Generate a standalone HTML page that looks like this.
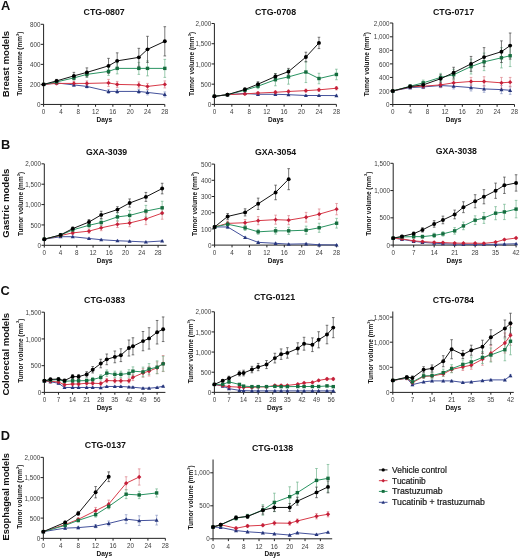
<!DOCTYPE html>
<html><head><meta charset="utf-8"><style>
html,body{margin:0;padding:0;background:#fff;}
svg{display:block;will-change:transform;filter:blur(0.3px);}
text{font-family:"Liberation Sans", sans-serif;}
</style></head><body>
<svg width="520" height="559" viewBox="0 0 520 559">
<rect width="520" height="559" fill="#fff"/>
<g stroke="#222" stroke-width="1" fill="none">
<path d="M43.6 24.3V104.45H164.8"/>
<path d="M40.8 104.45H43.6"/>
<path d="M40.8 84.41H43.6"/>
<path d="M40.8 64.37H43.6"/>
<path d="M40.8 44.33H43.6"/>
<path d="M40.8 24.29H43.6"/>
<path d="M43.6 104.45V106.75"/>
<path d="M60.92 104.45V106.75"/>
<path d="M78.23 104.45V106.75"/>
<path d="M95.55 104.45V106.75"/>
<path d="M112.86 104.45V106.75"/>
<path d="M130.18 104.45V106.75"/>
<path d="M147.5 104.45V106.75"/>
<path d="M164.81 104.45V106.75"/>
</g>
<text x="40.4" y="107.1" font-size="6.3" font-weight="normal" text-anchor="end" fill="#404040">0</text>
<text x="40.4" y="87.06" font-size="6.3" font-weight="normal" text-anchor="end" fill="#404040">200</text>
<text x="40.4" y="67.02" font-size="6.3" font-weight="normal" text-anchor="end" fill="#404040">400</text>
<text x="40.4" y="46.98" font-size="6.3" font-weight="normal" text-anchor="end" fill="#404040">600</text>
<text x="40.4" y="26.94" font-size="6.3" font-weight="normal" text-anchor="end" fill="#404040">800</text>
<text x="43.6" y="114.35" font-size="6.3" font-weight="normal" text-anchor="middle" fill="#404040">0</text>
<text x="60.92" y="114.35" font-size="6.3" font-weight="normal" text-anchor="middle" fill="#404040">4</text>
<text x="78.23" y="114.35" font-size="6.3" font-weight="normal" text-anchor="middle" fill="#404040">8</text>
<text x="95.55" y="114.35" font-size="6.3" font-weight="normal" text-anchor="middle" fill="#404040">12</text>
<text x="112.86" y="114.35" font-size="6.3" font-weight="normal" text-anchor="middle" fill="#404040">16</text>
<text x="130.18" y="114.35" font-size="6.3" font-weight="normal" text-anchor="middle" fill="#404040">20</text>
<text x="147.5" y="114.35" font-size="6.3" font-weight="normal" text-anchor="middle" fill="#404040">24</text>
<text x="164.81" y="114.35" font-size="6.3" font-weight="normal" text-anchor="middle" fill="#404040">28</text>
<text x="104.25" y="122.05" font-size="6.4" font-weight="bold" text-anchor="middle" fill="#111" textLength="15.6" lengthAdjust="spacingAndGlyphs">Days</text>
<text x="104.2" y="15" font-size="9.1" font-weight="bold" text-anchor="middle" fill="#111" textLength="41.2" lengthAdjust="spacingAndGlyphs">CTG-0807</text>
<text x="21.9" y="63.6" font-size="6.4" font-weight="bold" fill="#111" text-anchor="middle" transform="rotate(-90 21.9 63.6)" textLength="64.2" lengthAdjust="spacingAndGlyphs">Tumor volume (mm<tspan font-size="4" dy="-3.2">3</tspan><tspan dy="3.2">)</tspan></text>
<g stroke="#8a96c4" stroke-width="0.7" fill="none">
<path d="M56.59 81.91V83.91M55.29 81.91H57.89M55.29 83.91H57.89"/>
<path d="M73.9 83.41V86.41M72.6 83.41H75.2M72.6 86.41H75.2"/>
<path d="M86.89 84.91V87.92M85.59 84.91H88.19M85.59 87.92H88.19"/>
<path d="M108.53 89.42V93.43M107.23 89.42H109.83M107.23 93.43H109.83"/>
<path d="M117.19 89.42V93.43M115.89 89.42H118.49M115.89 93.43H118.49"/>
<path d="M138.84 89.42V93.43M137.54 89.42H140.14M137.54 93.43H140.14"/>
<path d="M147.5 89.92V94.93M146.2 89.92H148.8M146.2 94.93H148.8"/>
<path d="M164.81 91.92V96.94M163.51 91.92H166.11M163.51 96.94H166.11"/>
</g>
<g stroke="#dc8088" stroke-width="0.7" fill="none">
<path d="M56.59 82.21V84.61M55.29 82.21H57.89M55.29 84.61H57.89"/>
<path d="M73.9 81.4V85.41M72.6 81.4H75.2M72.6 85.41H75.2"/>
<path d="M86.89 80.9V85.91M85.59 80.9H88.19M85.59 85.91H88.19"/>
<path d="M108.53 79.4V86.41M107.23 79.4H109.83M107.23 86.41H109.83"/>
<path d="M117.19 81.4V87.42M115.89 81.4H118.49M115.89 87.42H118.49"/>
<path d="M138.84 81.91V87.92M137.54 81.91H140.14M137.54 87.92H140.14"/>
<path d="M147.5 83.41V89.42M146.2 83.41H148.8M146.2 89.42H148.8"/>
<path d="M164.81 80.9V87.92M163.51 80.9H166.11M163.51 87.92H166.11"/>
</g>
<g stroke="#70b48c" stroke-width="0.7" fill="none">
<path d="M56.59 80.7V83.11M55.29 80.7H57.89M55.29 83.11H57.89"/>
<path d="M73.9 75.69V80.1M72.6 75.69H75.2M72.6 80.1H75.2"/>
<path d="M86.89 71.38V77.4M85.59 71.38H88.19M85.59 77.4H88.19"/>
<path d="M108.53 67.38V75.39M107.23 67.38H109.83M107.23 75.39H109.83"/>
<path d="M117.19 62.87V73.89M115.89 62.87H118.49M115.89 73.89H118.49"/>
<path d="M138.84 62.37V74.39M137.54 62.37H140.14M137.54 74.39H140.14"/>
<path d="M147.5 60.86V75.89M146.2 60.86H148.8M146.2 75.89H148.8"/>
<path d="M164.81 59.36V77.4M163.51 59.36H166.11M163.51 77.4H166.11"/>
</g>
<g stroke="#404040" stroke-width="0.7" fill="none">
<path d="M56.59 79.4V82.41M55.29 79.4H57.89M55.29 82.41H57.89"/>
<path d="M73.9 72.39V79.4M72.6 72.39H75.2M72.6 79.4H75.2"/>
<path d="M86.89 67.88V76.9M85.59 67.88H88.19M85.59 76.9H88.19"/>
<path d="M108.53 58.36V73.39M107.23 58.36H109.83M107.23 73.39H109.83"/>
<path d="M117.19 52.85V68.88M115.89 52.85H118.49M115.89 68.88H118.49"/>
<path d="M138.84 48.34V66.37M137.54 48.34H140.14M137.54 66.37H140.14"/>
<path d="M147.5 36.31V62.37M146.2 36.31H148.8M146.2 62.37H148.8"/>
<path d="M164.81 26.69V55.95M163.51 26.69H166.11M163.51 55.95H166.11"/>
</g>
<path d="M43.6 84.41 L56.59 82.91 L73.9 84.91 L86.89 86.41 L108.53 91.42 L117.19 91.42 L138.84 91.42 L147.5 92.43 L164.81 94.43" stroke="#44529c" stroke-width="1.0" fill="none" stroke-linejoin="round"/>
<path d="M43.6 82.41L45.6 86.01L41.6 86.01Z" fill="#26357a"/>
<path d="M56.59 80.91L58.59 84.51L54.59 84.51Z" fill="#26357a"/>
<path d="M73.9 82.91L75.9 86.51L71.9 86.51Z" fill="#26357a"/>
<path d="M86.89 84.41L88.89 88.01L84.89 88.01Z" fill="#26357a"/>
<path d="M108.53 89.42L110.53 93.02L106.53 93.02Z" fill="#26357a"/>
<path d="M117.19 89.42L119.19 93.02L115.19 93.02Z" fill="#26357a"/>
<path d="M138.84 89.42L140.84 93.02L136.84 93.02Z" fill="#26357a"/>
<path d="M147.5 90.43L149.5 94.03L145.5 94.03Z" fill="#26357a"/>
<path d="M164.81 92.43L166.81 96.03L162.81 96.03Z" fill="#26357a"/>
<path d="M43.6 84.41 L56.59 83.41 L73.9 83.41 L86.89 83.41 L108.53 82.91 L117.19 84.41 L138.84 84.91 L147.5 86.41 L164.81 84.41" stroke="#d83a48" stroke-width="1.0" fill="none" stroke-linejoin="round"/>
<path d="M43.6 82.26L45.75 84.41L43.6 86.56L41.45 84.41Z" fill="#c4203a"/>
<path d="M56.59 81.26L58.74 83.41L56.59 85.56L54.44 83.41Z" fill="#c4203a"/>
<path d="M73.9 81.26L76.05 83.41L73.9 85.56L71.75 83.41Z" fill="#c4203a"/>
<path d="M86.89 81.26L89.04 83.41L86.89 85.56L84.74 83.41Z" fill="#c4203a"/>
<path d="M108.53 80.76L110.69 82.91L108.53 85.06L106.38 82.91Z" fill="#c4203a"/>
<path d="M117.19 82.26L119.34 84.41L117.19 86.56L115.04 84.41Z" fill="#c4203a"/>
<path d="M138.84 82.76L140.99 84.91L138.84 87.06L136.69 84.91Z" fill="#c4203a"/>
<path d="M147.5 84.26L149.65 86.41L147.5 88.56L145.35 86.41Z" fill="#c4203a"/>
<path d="M164.81 82.26L166.96 84.41L164.81 86.56L162.66 84.41Z" fill="#c4203a"/>
<path d="M43.6 84.41 L56.59 81.91 L73.9 77.9 L86.89 74.39 L108.53 71.38 L117.19 68.38 L138.84 68.38 L147.5 68.38 L164.81 68.38" stroke="#2a9462" stroke-width="1.0" fill="none" stroke-linejoin="round"/>
<rect x="41.9" y="82.71" width="3.4" height="3.4" fill="#156c3e"/>
<rect x="54.89" y="80.2" width="3.4" height="3.4" fill="#156c3e"/>
<rect x="72.2" y="76.2" width="3.4" height="3.4" fill="#156c3e"/>
<rect x="85.19" y="72.69" width="3.4" height="3.4" fill="#156c3e"/>
<rect x="106.83" y="69.68" width="3.4" height="3.4" fill="#156c3e"/>
<rect x="115.49" y="66.68" width="3.4" height="3.4" fill="#156c3e"/>
<rect x="137.14" y="66.68" width="3.4" height="3.4" fill="#156c3e"/>
<rect x="145.8" y="66.68" width="3.4" height="3.4" fill="#156c3e"/>
<rect x="163.11" y="66.68" width="3.4" height="3.4" fill="#156c3e"/>
<path d="M43.6 84.41 L56.59 80.9 L73.9 75.89 L86.89 72.39 L108.53 65.87 L117.19 60.86 L138.84 57.36 L147.5 49.34 L164.81 41.32" stroke="#141414" stroke-width="1.0" fill="none" stroke-linejoin="round"/>
<circle cx="43.6" cy="84.41" r="1.95" fill="#000000"/>
<circle cx="56.59" cy="80.9" r="1.95" fill="#000000"/>
<circle cx="73.9" cy="75.89" r="1.95" fill="#000000"/>
<circle cx="86.89" cy="72.39" r="1.95" fill="#000000"/>
<circle cx="108.53" cy="65.87" r="1.95" fill="#000000"/>
<circle cx="117.19" cy="60.86" r="1.95" fill="#000000"/>
<circle cx="138.84" cy="57.36" r="1.95" fill="#000000"/>
<circle cx="147.5" cy="49.34" r="1.95" fill="#000000"/>
<circle cx="164.81" cy="41.32" r="1.95" fill="#000000"/>
<g stroke="#222" stroke-width="1" fill="none">
<path d="M214.4 23.5V104.4H336.4"/>
<path d="M211.6 104.4H214.4"/>
<path d="M211.6 84.18H214.4"/>
<path d="M211.6 63.95H214.4"/>
<path d="M211.6 43.73H214.4"/>
<path d="M211.6 23.5H214.4"/>
<path d="M214.4 104.4V106.7"/>
<path d="M231.83 104.4V106.7"/>
<path d="M249.26 104.4V106.7"/>
<path d="M266.68 104.4V106.7"/>
<path d="M284.11 104.4V106.7"/>
<path d="M301.54 104.4V106.7"/>
<path d="M318.97 104.4V106.7"/>
<path d="M336.4 104.4V106.7"/>
</g>
<text x="211.2" y="107.05" font-size="6.3" font-weight="normal" text-anchor="end" fill="#404040">0</text>
<text x="211.2" y="86.83" font-size="6.3" font-weight="normal" text-anchor="end" fill="#404040">500</text>
<text x="211.2" y="66.6" font-size="6.3" font-weight="normal" text-anchor="end" fill="#404040">1,000</text>
<text x="211.2" y="46.38" font-size="6.3" font-weight="normal" text-anchor="end" fill="#404040">1,500</text>
<text x="211.2" y="26.15" font-size="6.3" font-weight="normal" text-anchor="end" fill="#404040">2,000</text>
<text x="214.4" y="114.3" font-size="6.3" font-weight="normal" text-anchor="middle" fill="#404040">0</text>
<text x="231.83" y="114.3" font-size="6.3" font-weight="normal" text-anchor="middle" fill="#404040">4</text>
<text x="249.26" y="114.3" font-size="6.3" font-weight="normal" text-anchor="middle" fill="#404040">8</text>
<text x="266.68" y="114.3" font-size="6.3" font-weight="normal" text-anchor="middle" fill="#404040">12</text>
<text x="284.11" y="114.3" font-size="6.3" font-weight="normal" text-anchor="middle" fill="#404040">16</text>
<text x="301.54" y="114.3" font-size="6.3" font-weight="normal" text-anchor="middle" fill="#404040">20</text>
<text x="318.97" y="114.3" font-size="6.3" font-weight="normal" text-anchor="middle" fill="#404040">24</text>
<text x="336.4" y="114.3" font-size="6.3" font-weight="normal" text-anchor="middle" fill="#404040">28</text>
<text x="275.85" y="122" font-size="6.4" font-weight="bold" text-anchor="middle" fill="#111" textLength="15.6" lengthAdjust="spacingAndGlyphs">Days</text>
<text x="275.55" y="14.9" font-size="9.1" font-weight="bold" text-anchor="middle" fill="#111" textLength="41.2" lengthAdjust="spacingAndGlyphs">CTG-0708</text>
<text x="194.2" y="64" font-size="6.4" font-weight="bold" fill="#111" text-anchor="middle" transform="rotate(-90 194.2 64)" textLength="64.2" lengthAdjust="spacingAndGlyphs">Tumor volume (mm<tspan font-size="4" dy="-3.2">3</tspan><tspan dy="3.2">)</tspan></text>
<g stroke="#8a96c4" stroke-width="0.7" fill="none">
<path d="M227.47 94.09V95.3M226.17 94.09H228.77M226.17 95.3H228.77"/>
<path d="M244.9 92.67V94.29M243.6 92.67H246.2M243.6 94.29H246.2"/>
<path d="M257.97 93.48V95.1M256.67 93.48H259.27M256.67 95.1H259.27"/>
<path d="M275.4 93.48V95.1M274.1 93.48H276.7M274.1 95.1H276.7"/>
<path d="M288.47 94.09V95.3M287.17 94.09H289.77M287.17 95.3H289.77"/>
<path d="M305.9 94.89V96.11M304.6 94.89H307.2M304.6 96.11H307.2"/>
<path d="M318.97 94.89V96.11M317.67 94.89H320.27M317.67 96.11H320.27"/>
<path d="M336.4 94.98V96.19M335.1 94.98H337.7M335.1 96.19H337.7"/>
</g>
<g stroke="#dc8088" stroke-width="0.7" fill="none">
<path d="M227.47 94.09V95.3M226.17 94.09H228.77M226.17 95.3H228.77"/>
<path d="M244.9 92.87V94.89M243.6 92.87H246.2M243.6 94.89H246.2"/>
<path d="M257.97 91.86V94.29M256.67 91.86H259.27M256.67 94.29H259.27"/>
<path d="M275.4 91.05V93.48M274.1 91.05H276.7M274.1 93.48H276.7"/>
<path d="M288.47 90.24V92.67M287.17 90.24H289.77M287.17 92.67H289.77"/>
<path d="M305.9 89.23V92.06M304.6 89.23H307.2M304.6 92.06H307.2"/>
<path d="M318.97 88.22V91.46M317.67 88.22H320.27M317.67 91.46H320.27"/>
<path d="M336.4 86.6V89.84M335.1 86.6H337.7M335.1 89.84H337.7"/>
</g>
<g stroke="#70b48c" stroke-width="0.7" fill="none">
<path d="M227.47 94.09V95.3M226.17 94.09H228.77M226.17 95.3H228.77"/>
<path d="M244.9 88.62V91.86M243.6 88.62H246.2M243.6 91.86H246.2"/>
<path d="M257.97 83.77V88.62M256.67 83.77H259.27M256.67 88.62H259.27"/>
<path d="M275.4 73.66V85.79M274.1 73.66H276.7M274.1 85.79H276.7"/>
<path d="M288.47 69.61V84.18M287.17 69.61H289.77M287.17 84.18H289.77"/>
<path d="M305.9 61.52V82.56M304.6 61.52H307.2M304.6 82.56H307.2"/>
<path d="M318.97 73.25V83.77M317.67 73.25H320.27M317.67 83.77H320.27"/>
<path d="M336.4 69.21V79.73M335.1 69.21H337.7M335.1 79.73H337.7"/>
</g>
<g stroke="#404040" stroke-width="0.7" fill="none">
<path d="M227.47 94.09V95.3M226.17 94.09H228.77M226.17 95.3H228.77"/>
<path d="M244.9 87.82V91.05M243.6 87.82H246.2M243.6 91.05H246.2"/>
<path d="M257.97 81.75V86.6M256.67 81.75H259.27M256.67 86.6H259.27"/>
<path d="M275.4 73.66V79.32M274.1 73.66H276.7M274.1 79.32H276.7"/>
<path d="M288.47 68.4V74.87M287.17 68.4H289.77M287.17 74.87H289.77"/>
<path d="M305.9 52.22V61.93M304.6 52.22H307.2M304.6 61.93H307.2"/>
<path d="M318.97 37.25V48.58M317.67 37.25H320.27M317.67 48.58H320.27"/>
</g>
<path d="M214.4 96.31 L227.47 94.69 L244.9 93.48 L257.97 94.29 L275.4 94.29 L288.47 94.69 L305.9 95.5 L318.97 95.5 L336.4 95.58" stroke="#44529c" stroke-width="1.0" fill="none" stroke-linejoin="round"/>
<path d="M214.4 94.31L216.4 97.91L212.4 97.91Z" fill="#26357a"/>
<path d="M227.47 92.69L229.47 96.29L225.47 96.29Z" fill="#26357a"/>
<path d="M244.9 91.48L246.9 95.08L242.9 95.08Z" fill="#26357a"/>
<path d="M257.97 92.29L259.97 95.89L255.97 95.89Z" fill="#26357a"/>
<path d="M275.4 92.29L277.4 95.89L273.4 95.89Z" fill="#26357a"/>
<path d="M288.47 92.69L290.47 96.29L286.47 96.29Z" fill="#26357a"/>
<path d="M305.9 93.5L307.9 97.1L303.9 97.1Z" fill="#26357a"/>
<path d="M318.97 93.5L320.97 97.1L316.97 97.1Z" fill="#26357a"/>
<path d="M336.4 93.58L338.4 97.18L334.4 97.18Z" fill="#26357a"/>
<path d="M214.4 96.31 L227.47 94.69 L244.9 93.88 L257.97 93.07 L275.4 92.27 L288.47 91.46 L305.9 90.65 L318.97 89.84 L336.4 88.22" stroke="#d83a48" stroke-width="1.0" fill="none" stroke-linejoin="round"/>
<path d="M214.4 94.16L216.55 96.31L214.4 98.46L212.25 96.31Z" fill="#c4203a"/>
<path d="M227.47 92.54L229.62 94.69L227.47 96.84L225.32 94.69Z" fill="#c4203a"/>
<path d="M244.9 91.73L247.05 93.88L244.9 96.03L242.75 93.88Z" fill="#c4203a"/>
<path d="M257.97 90.92L260.12 93.07L257.97 95.22L255.82 93.07Z" fill="#c4203a"/>
<path d="M275.4 90.11L277.55 92.27L275.4 94.42L273.25 92.27Z" fill="#c4203a"/>
<path d="M288.47 89.31L290.62 91.46L288.47 93.61L286.32 91.46Z" fill="#c4203a"/>
<path d="M305.9 88.5L308.05 90.65L305.9 92.8L303.75 90.65Z" fill="#c4203a"/>
<path d="M318.97 87.69L321.12 89.84L318.97 91.99L316.82 89.84Z" fill="#c4203a"/>
<path d="M336.4 86.07L338.55 88.22L336.4 90.37L334.25 88.22Z" fill="#c4203a"/>
<path d="M214.4 96.31 L227.47 94.69 L244.9 90.24 L257.97 86.2 L275.4 79.73 L288.47 76.89 L305.9 72.04 L318.97 78.51 L336.4 74.47" stroke="#2a9462" stroke-width="1.0" fill="none" stroke-linejoin="round"/>
<rect x="212.7" y="94.61" width="3.4" height="3.4" fill="#156c3e"/>
<rect x="225.77" y="92.99" width="3.4" height="3.4" fill="#156c3e"/>
<rect x="243.2" y="88.54" width="3.4" height="3.4" fill="#156c3e"/>
<rect x="256.27" y="84.5" width="3.4" height="3.4" fill="#156c3e"/>
<rect x="273.7" y="78.03" width="3.4" height="3.4" fill="#156c3e"/>
<rect x="286.77" y="75.19" width="3.4" height="3.4" fill="#156c3e"/>
<rect x="304.2" y="70.34" width="3.4" height="3.4" fill="#156c3e"/>
<rect x="317.27" y="76.81" width="3.4" height="3.4" fill="#156c3e"/>
<rect x="334.7" y="72.77" width="3.4" height="3.4" fill="#156c3e"/>
<path d="M214.4 96.31 L227.47 94.69 L244.9 89.43 L257.97 84.18 L275.4 76.49 L288.47 71.64 L305.9 57.07 L318.97 42.92" stroke="#141414" stroke-width="1.0" fill="none" stroke-linejoin="round"/>
<circle cx="214.4" cy="96.31" r="1.95" fill="#000000"/>
<circle cx="227.47" cy="94.69" r="1.95" fill="#000000"/>
<circle cx="244.9" cy="89.43" r="1.95" fill="#000000"/>
<circle cx="257.97" cy="84.18" r="1.95" fill="#000000"/>
<circle cx="275.4" cy="76.49" r="1.95" fill="#000000"/>
<circle cx="288.47" cy="71.64" r="1.95" fill="#000000"/>
<circle cx="305.9" cy="57.07" r="1.95" fill="#000000"/>
<circle cx="318.97" cy="42.92" r="1.95" fill="#000000"/>
<g stroke="#222" stroke-width="1" fill="none">
<path d="M392.8 23V104.5H514.5"/>
<path d="M390 104.5H392.8"/>
<path d="M390 90.96H392.8"/>
<path d="M390 77.42H392.8"/>
<path d="M390 63.88H392.8"/>
<path d="M390 50.34H392.8"/>
<path d="M390 36.8H392.8"/>
<path d="M390 23H392.8"/>
<path d="M392.8 104.5V106.8"/>
<path d="M410.18 104.5V106.8"/>
<path d="M427.57 104.5V106.8"/>
<path d="M444.95 104.5V106.8"/>
<path d="M462.34 104.5V106.8"/>
<path d="M479.72 104.5V106.8"/>
<path d="M497.1 104.5V106.8"/>
<path d="M514.49 104.5V106.8"/>
</g>
<text x="389.6" y="107.15" font-size="6.3" font-weight="normal" text-anchor="end" fill="#404040">0</text>
<text x="389.6" y="93.61" font-size="6.3" font-weight="normal" text-anchor="end" fill="#404040">200</text>
<text x="389.6" y="80.07" font-size="6.3" font-weight="normal" text-anchor="end" fill="#404040">400</text>
<text x="389.6" y="66.53" font-size="6.3" font-weight="normal" text-anchor="end" fill="#404040">600</text>
<text x="389.6" y="52.99" font-size="6.3" font-weight="normal" text-anchor="end" fill="#404040">800</text>
<text x="389.6" y="39.45" font-size="6.3" font-weight="normal" text-anchor="end" fill="#404040">1,000</text>
<text x="389.6" y="25.65" font-size="6.3" font-weight="normal" text-anchor="end" fill="#404040">2,000</text>
<text x="392.8" y="114.4" font-size="6.3" font-weight="normal" text-anchor="middle" fill="#404040">0</text>
<text x="410.18" y="114.4" font-size="6.3" font-weight="normal" text-anchor="middle" fill="#404040">4</text>
<text x="427.57" y="114.4" font-size="6.3" font-weight="normal" text-anchor="middle" fill="#404040">8</text>
<text x="444.95" y="114.4" font-size="6.3" font-weight="normal" text-anchor="middle" fill="#404040">12</text>
<text x="462.34" y="114.4" font-size="6.3" font-weight="normal" text-anchor="middle" fill="#404040">16</text>
<text x="479.72" y="114.4" font-size="6.3" font-weight="normal" text-anchor="middle" fill="#404040">20</text>
<text x="497.1" y="114.4" font-size="6.3" font-weight="normal" text-anchor="middle" fill="#404040">24</text>
<text x="514.49" y="114.4" font-size="6.3" font-weight="normal" text-anchor="middle" fill="#404040">28</text>
<text x="453.55" y="122.1" font-size="6.4" font-weight="bold" text-anchor="middle" fill="#111" textLength="15.6" lengthAdjust="spacingAndGlyphs">Days</text>
<text x="453.5" y="14.9" font-size="9.1" font-weight="bold" text-anchor="middle" fill="#111" textLength="41.2" lengthAdjust="spacingAndGlyphs">CTG-0717</text>
<text x="369.3" y="64.2" font-size="6.4" font-weight="bold" fill="#111" text-anchor="middle" transform="rotate(-90 369.3 64.2)" textLength="64.2" lengthAdjust="spacingAndGlyphs">Tumor volume (mm<tspan font-size="4" dy="-3.2">3</tspan><tspan dy="3.2">)</tspan></text>
<g stroke="#8a96c4" stroke-width="0.7" fill="none">
<path d="M410.18 86.22V88.93M408.88 86.22H411.48M408.88 88.93H411.48"/>
<path d="M423.22 85.21V88.59M421.92 85.21H424.52M421.92 88.59H424.52"/>
<path d="M440.61 83.51V87.58M439.31 83.51H441.91M439.31 87.58H441.91"/>
<path d="M453.64 83.51V88.93M452.34 83.51H454.94M452.34 88.93H454.94"/>
<path d="M471.03 84.19V90.96M469.73 84.19H472.33M469.73 90.96H472.33"/>
<path d="M484.07 85.54V92.31M482.77 85.54H485.37M482.77 92.31H485.37"/>
<path d="M501.45 85.54V93.67M500.15 85.54H502.75M500.15 93.67H502.75"/>
<path d="M510.14 86.22V94.34M508.84 86.22H511.44M508.84 94.34H511.44"/>
</g>
<g stroke="#dc8088" stroke-width="0.7" fill="none">
<path d="M410.18 85.54V88.25M408.88 85.54H411.48M408.88 88.25H411.48"/>
<path d="M423.22 84.19V88.25M421.92 84.19H424.52M421.92 88.25H424.52"/>
<path d="M440.61 82.16V87.58M439.31 82.16H441.91M439.31 87.58H441.91"/>
<path d="M453.64 79.45V86.22M452.34 79.45H454.94M452.34 86.22H454.94"/>
<path d="M471.03 77.42V85.54M469.73 77.42H472.33M469.73 85.54H472.33"/>
<path d="M484.07 76.74V86.22M482.77 76.74H485.37M482.77 86.22H485.37"/>
<path d="M501.45 77.42V88.25M500.15 77.42H502.75M500.15 88.25H502.75"/>
<path d="M510.14 77.42V86.9M508.84 77.42H511.44M508.84 86.9H511.44"/>
</g>
<g stroke="#70b48c" stroke-width="0.7" fill="none">
<path d="M410.18 84.87V87.58M408.88 84.87H411.48M408.88 87.58H411.48"/>
<path d="M423.22 80.13V85.54M421.92 80.13H424.52M421.92 85.54H424.52"/>
<path d="M440.61 73.36V81.48M439.31 73.36H441.91M439.31 81.48H441.91"/>
<path d="M453.64 69.3V80.13M452.34 69.3H454.94M452.34 80.13H454.94"/>
<path d="M471.03 59.14V74.03M469.73 59.14H472.33M469.73 74.03H472.33"/>
<path d="M484.07 53.05V70.65M482.77 53.05H485.37M482.77 70.65H485.37"/>
<path d="M501.45 47.63V67.94M500.15 47.63H502.75M500.15 67.94H502.75"/>
<path d="M510.14 44.92V66.59M508.84 44.92H511.44M508.84 66.59H511.44"/>
</g>
<g stroke="#404040" stroke-width="0.7" fill="none">
<path d="M410.18 85.21V87.91M408.88 85.21H411.48M408.88 87.91H411.48"/>
<path d="M423.22 82.84V86.9M421.92 82.84H424.52M421.92 86.9H424.52"/>
<path d="M440.61 74.71V82.84M439.31 74.71H441.91M439.31 82.84H441.91"/>
<path d="M453.64 67.27V78.1M452.34 67.27H454.94M452.34 78.1H454.94"/>
<path d="M471.03 56.43V71.33M469.73 56.43H472.33M469.73 71.33H472.33"/>
<path d="M484.07 47.63V66.59M482.77 47.63H485.37M482.77 66.59H485.37"/>
<path d="M501.45 40.86V62.53M500.15 40.86H502.75M500.15 62.53H502.75"/>
<path d="M510.14 33V59.14M508.84 33H511.44M508.84 59.14H511.44"/>
</g>
<path d="M392.8 90.96 L410.18 87.58 L423.22 86.9 L440.61 85.54 L453.64 86.22 L471.03 87.58 L484.07 88.93 L501.45 89.61 L510.14 90.28" stroke="#44529c" stroke-width="1.0" fill="none" stroke-linejoin="round"/>
<path d="M392.8 88.96L394.8 92.56L390.8 92.56Z" fill="#26357a"/>
<path d="M410.18 85.58L412.18 89.17L408.18 89.17Z" fill="#26357a"/>
<path d="M423.22 84.9L425.22 88.5L421.22 88.5Z" fill="#26357a"/>
<path d="M440.61 83.54L442.61 87.14L438.61 87.14Z" fill="#26357a"/>
<path d="M453.64 84.22L455.64 87.82L451.64 87.82Z" fill="#26357a"/>
<path d="M471.03 85.58L473.03 89.17L469.03 89.17Z" fill="#26357a"/>
<path d="M484.07 86.93L486.07 90.53L482.07 90.53Z" fill="#26357a"/>
<path d="M501.45 87.61L503.45 91.21L499.45 91.21Z" fill="#26357a"/>
<path d="M510.14 88.28L512.14 91.88L508.14 91.88Z" fill="#26357a"/>
<path d="M392.8 90.96 L410.18 86.9 L423.22 86.22 L440.61 84.87 L453.64 82.84 L471.03 81.48 L484.07 81.48 L501.45 82.84 L510.14 82.16" stroke="#d83a48" stroke-width="1.0" fill="none" stroke-linejoin="round"/>
<path d="M392.8 88.81L394.95 90.96L392.8 93.11L390.65 90.96Z" fill="#c4203a"/>
<path d="M410.18 84.75L412.33 86.9L410.18 89.05L408.03 86.9Z" fill="#c4203a"/>
<path d="M423.22 84.07L425.37 86.22L423.22 88.37L421.07 86.22Z" fill="#c4203a"/>
<path d="M440.61 82.72L442.76 84.87L440.61 87.02L438.46 84.87Z" fill="#c4203a"/>
<path d="M453.64 80.69L455.79 82.84L453.64 84.99L451.49 82.84Z" fill="#c4203a"/>
<path d="M471.03 79.33L473.18 81.48L471.03 83.63L468.88 81.48Z" fill="#c4203a"/>
<path d="M484.07 79.33L486.22 81.48L484.07 83.63L481.92 81.48Z" fill="#c4203a"/>
<path d="M501.45 80.69L503.6 82.84L501.45 84.99L499.3 82.84Z" fill="#c4203a"/>
<path d="M510.14 80.01L512.29 82.16L510.14 84.31L507.99 82.16Z" fill="#c4203a"/>
<path d="M392.8 90.96 L410.18 86.22 L423.22 82.84 L440.61 77.42 L453.64 74.71 L471.03 66.59 L484.07 61.85 L501.45 57.79 L510.14 55.76" stroke="#2a9462" stroke-width="1.0" fill="none" stroke-linejoin="round"/>
<rect x="391.1" y="89.26" width="3.4" height="3.4" fill="#156c3e"/>
<rect x="408.48" y="84.52" width="3.4" height="3.4" fill="#156c3e"/>
<rect x="421.52" y="81.14" width="3.4" height="3.4" fill="#156c3e"/>
<rect x="438.91" y="75.72" width="3.4" height="3.4" fill="#156c3e"/>
<rect x="451.94" y="73.01" width="3.4" height="3.4" fill="#156c3e"/>
<rect x="469.33" y="64.89" width="3.4" height="3.4" fill="#156c3e"/>
<rect x="482.37" y="60.15" width="3.4" height="3.4" fill="#156c3e"/>
<rect x="499.75" y="56.09" width="3.4" height="3.4" fill="#156c3e"/>
<rect x="508.44" y="54.06" width="3.4" height="3.4" fill="#156c3e"/>
<path d="M392.8 90.96 L410.18 86.56 L423.22 84.87 L440.61 78.77 L453.64 72.68 L471.03 63.88 L484.07 57.11 L501.45 51.69 L510.14 45.6" stroke="#141414" stroke-width="1.0" fill="none" stroke-linejoin="round"/>
<circle cx="392.8" cy="90.96" r="1.95" fill="#000000"/>
<circle cx="410.18" cy="86.56" r="1.95" fill="#000000"/>
<circle cx="423.22" cy="84.87" r="1.95" fill="#000000"/>
<circle cx="440.61" cy="78.77" r="1.95" fill="#000000"/>
<circle cx="453.64" cy="72.68" r="1.95" fill="#000000"/>
<circle cx="471.03" cy="63.88" r="1.95" fill="#000000"/>
<circle cx="484.07" cy="57.11" r="1.95" fill="#000000"/>
<circle cx="501.45" cy="51.69" r="1.95" fill="#000000"/>
<circle cx="510.14" cy="45.6" r="1.95" fill="#000000"/>
<g stroke="#222" stroke-width="1" fill="none">
<path d="M44.3 163.85V245.3H166.5"/>
<path d="M41.5 245.3H44.3"/>
<path d="M41.5 224.94H44.3"/>
<path d="M41.5 204.57H44.3"/>
<path d="M41.5 184.21H44.3"/>
<path d="M41.5 163.84H44.3"/>
<path d="M44.3 245.3V247.6"/>
<path d="M60.56 245.3V247.6"/>
<path d="M76.81 245.3V247.6"/>
<path d="M93.07 245.3V247.6"/>
<path d="M109.32 245.3V247.6"/>
<path d="M125.58 245.3V247.6"/>
<path d="M141.84 245.3V247.6"/>
<path d="M158.09 245.3V247.6"/>
</g>
<text x="41.1" y="247.95" font-size="6.3" font-weight="normal" text-anchor="end" fill="#404040">0</text>
<text x="41.1" y="227.59" font-size="6.3" font-weight="normal" text-anchor="end" fill="#404040">500</text>
<text x="41.1" y="207.22" font-size="6.3" font-weight="normal" text-anchor="end" fill="#404040">1,000</text>
<text x="41.1" y="186.86" font-size="6.3" font-weight="normal" text-anchor="end" fill="#404040">1,500</text>
<text x="41.1" y="166.49" font-size="6.3" font-weight="normal" text-anchor="end" fill="#404040">2,000</text>
<text x="44.3" y="255.2" font-size="6.3" font-weight="normal" text-anchor="middle" fill="#404040">0</text>
<text x="60.56" y="255.2" font-size="6.3" font-weight="normal" text-anchor="middle" fill="#404040">4</text>
<text x="76.81" y="255.2" font-size="6.3" font-weight="normal" text-anchor="middle" fill="#404040">8</text>
<text x="93.07" y="255.2" font-size="6.3" font-weight="normal" text-anchor="middle" fill="#404040">12</text>
<text x="109.32" y="255.2" font-size="6.3" font-weight="normal" text-anchor="middle" fill="#404040">16</text>
<text x="125.58" y="255.2" font-size="6.3" font-weight="normal" text-anchor="middle" fill="#404040">20</text>
<text x="141.84" y="255.2" font-size="6.3" font-weight="normal" text-anchor="middle" fill="#404040">24</text>
<text x="158.09" y="255.2" font-size="6.3" font-weight="normal" text-anchor="middle" fill="#404040">28</text>
<text x="104.6" y="262.9" font-size="6.4" font-weight="bold" text-anchor="middle" fill="#111" textLength="15.6" lengthAdjust="spacingAndGlyphs">Days</text>
<text x="106.6" y="155.1" font-size="9.1" font-weight="bold" text-anchor="middle" fill="#111" textLength="41.2" lengthAdjust="spacingAndGlyphs">GXA-3039</text>
<text x="23.4" y="204" font-size="6.4" font-weight="bold" fill="#111" text-anchor="middle" transform="rotate(-90 23.4 204)" textLength="64.2" lengthAdjust="spacingAndGlyphs">Tumor volume (mm<tspan font-size="4" dy="-3.2">3</tspan><tspan dy="3.2">)</tspan></text>
<g stroke="#8a96c4" stroke-width="0.7" fill="none">
<path d="M60.56 236.1V237.32M59.26 236.1H61.86M59.26 237.32H61.86"/>
<path d="M72.75 236.1V237.32M71.45 236.1H74.05M71.45 237.32H74.05"/>
<path d="M89 237.85V239.07M87.7 237.85H90.3M87.7 239.07H90.3"/>
<path d="M101.2 239.11V240.33M99.9 239.11H102.5M99.9 240.33H102.5"/>
<path d="M117.45 240.25V241.23M116.15 240.25H118.75M116.15 241.23H118.75"/>
<path d="M129.64 240.74V241.72M128.34 240.74H130.94M128.34 241.72H130.94"/>
<path d="M145.9 241.59V242.41M144.6 241.59H147.2M144.6 242.41H147.2"/>
<path d="M162.16 240.49V241.47M160.86 240.49H163.46M160.86 241.47H163.46"/>
</g>
<g stroke="#dc8088" stroke-width="0.7" fill="none">
<path d="M60.56 234.71V236.34M59.26 234.71H61.86M59.26 236.34H61.86"/>
<path d="M72.75 231.25V234.51M71.45 231.25H74.05M71.45 234.51H74.05"/>
<path d="M89 229.09V233.16M87.7 229.09H90.3M87.7 233.16H90.3"/>
<path d="M101.2 224.98V230.68M99.9 224.98H102.5M99.9 230.68H102.5"/>
<path d="M117.45 221.02V227.54M116.15 221.02H118.75M116.15 227.54H118.75"/>
<path d="M129.64 219.35V226.69M128.34 219.35H130.94M128.34 226.69H130.94"/>
<path d="M145.9 213.25V224.65M144.6 213.25H147.2M144.6 224.65H147.2"/>
<path d="M162.16 207.01V219.23M160.86 207.01H163.46M160.86 219.23H163.46"/>
</g>
<g stroke="#70b48c" stroke-width="0.7" fill="none">
<path d="M60.56 234.3V235.93M59.26 234.3H61.86M59.26 235.93H61.86"/>
<path d="M72.75 228.23V231.49M71.45 228.23H74.05M71.45 231.49H74.05"/>
<path d="M89 222.86V227.75M87.7 222.86H90.3M87.7 227.75H90.3"/>
<path d="M101.2 219.23V225.75M99.9 219.23H102.5M99.9 225.75H102.5"/>
<path d="M117.45 212.84V220.98M116.15 212.84H118.75M116.15 220.98H118.75"/>
<path d="M129.64 210.52V220.29M128.34 210.52H130.94M128.34 220.29H130.94"/>
<path d="M145.9 205.38V216.79M144.6 205.38H147.2M144.6 216.79H147.2"/>
<path d="M162.16 201.31V214.35M160.86 201.31H163.46M160.86 214.35H163.46"/>
</g>
<g stroke="#404040" stroke-width="0.7" fill="none">
<path d="M60.56 234.1V235.73M59.26 234.1H61.86M59.26 235.73H61.86"/>
<path d="M72.75 226.97V230.23M71.45 226.97H74.05M71.45 230.23H74.05"/>
<path d="M89 219.56V224.45M87.7 219.56H90.3M87.7 224.45H90.3"/>
<path d="M101.2 211.25V218.58M99.9 211.25H102.5M99.9 218.58H102.5"/>
<path d="M117.45 206.73V212.43M116.15 206.73H118.75M116.15 212.43H118.75"/>
<path d="M129.64 198.95V207.1M128.34 198.95H130.94M128.34 207.1H130.94"/>
<path d="M145.9 192.43V201.39M144.6 192.43H147.2M144.6 201.39H147.2"/>
<path d="M162.16 183.27V193.86M160.86 183.27H163.46M160.86 193.86H163.46"/>
</g>
<path d="M44.3 239.19 L60.56 236.71 L72.75 236.71 L89 238.46 L101.2 239.72 L117.45 240.74 L129.64 241.23 L145.9 242 L162.16 240.98" stroke="#44529c" stroke-width="1.0" fill="none" stroke-linejoin="round"/>
<path d="M44.3 237.19L46.3 240.79L42.3 240.79Z" fill="#26357a"/>
<path d="M60.56 234.71L62.56 238.31L58.56 238.31Z" fill="#26357a"/>
<path d="M72.75 234.71L74.75 238.31L70.75 238.31Z" fill="#26357a"/>
<path d="M89 236.46L91 240.06L87 240.06Z" fill="#26357a"/>
<path d="M101.2 237.72L103.2 241.32L99.2 241.32Z" fill="#26357a"/>
<path d="M117.45 238.74L119.45 242.34L115.45 242.34Z" fill="#26357a"/>
<path d="M129.64 239.23L131.64 242.83L127.64 242.83Z" fill="#26357a"/>
<path d="M145.9 240L147.9 243.6L143.9 243.6Z" fill="#26357a"/>
<path d="M162.16 238.98L164.16 242.58L160.16 242.58Z" fill="#26357a"/>
<path d="M44.3 239.19 L60.56 235.52 L72.75 232.88 L89 231.13 L101.2 227.83 L117.45 224.28 L129.64 223.02 L145.9 218.95 L162.16 213.12" stroke="#d83a48" stroke-width="1.0" fill="none" stroke-linejoin="round"/>
<path d="M44.3 237.04L46.45 239.19L44.3 241.34L42.15 239.19Z" fill="#c4203a"/>
<path d="M60.56 233.37L62.71 235.52L60.56 237.67L58.41 235.52Z" fill="#c4203a"/>
<path d="M72.75 230.73L74.9 232.88L72.75 235.03L70.6 232.88Z" fill="#c4203a"/>
<path d="M89 228.98L91.15 231.13L89 233.28L86.85 231.13Z" fill="#c4203a"/>
<path d="M101.2 225.68L103.35 227.83L101.2 229.98L99.05 227.83Z" fill="#c4203a"/>
<path d="M117.45 222.13L119.6 224.28L117.45 226.43L115.3 224.28Z" fill="#c4203a"/>
<path d="M129.64 220.87L131.79 223.02L129.64 225.17L127.49 223.02Z" fill="#c4203a"/>
<path d="M145.9 216.8L148.05 218.95L145.9 221.1L143.75 218.95Z" fill="#c4203a"/>
<path d="M162.16 210.97L164.31 213.12L162.16 215.27L160.01 213.12Z" fill="#c4203a"/>
<path d="M44.3 239.19 L60.56 235.12 L72.75 229.86 L89 225.3 L101.2 222.49 L117.45 216.91 L129.64 215.4 L145.9 211.09 L162.16 207.83" stroke="#2a9462" stroke-width="1.0" fill="none" stroke-linejoin="round"/>
<rect x="42.6" y="237.49" width="3.4" height="3.4" fill="#156c3e"/>
<rect x="58.86" y="233.42" width="3.4" height="3.4" fill="#156c3e"/>
<rect x="71.05" y="228.16" width="3.4" height="3.4" fill="#156c3e"/>
<rect x="87.3" y="223.6" width="3.4" height="3.4" fill="#156c3e"/>
<rect x="99.5" y="220.79" width="3.4" height="3.4" fill="#156c3e"/>
<rect x="115.75" y="215.21" width="3.4" height="3.4" fill="#156c3e"/>
<rect x="127.94" y="213.7" width="3.4" height="3.4" fill="#156c3e"/>
<rect x="144.2" y="209.39" width="3.4" height="3.4" fill="#156c3e"/>
<rect x="160.46" y="206.13" width="3.4" height="3.4" fill="#156c3e"/>
<path d="M44.3 239.19 L60.56 234.91 L72.75 228.6 L89 222 L101.2 214.92 L117.45 209.58 L129.64 203.02 L145.9 196.91 L162.16 188.56" stroke="#141414" stroke-width="1.0" fill="none" stroke-linejoin="round"/>
<circle cx="44.3" cy="239.19" r="1.95" fill="#000000"/>
<circle cx="60.56" cy="234.91" r="1.95" fill="#000000"/>
<circle cx="72.75" cy="228.6" r="1.95" fill="#000000"/>
<circle cx="89" cy="222" r="1.95" fill="#000000"/>
<circle cx="101.2" cy="214.92" r="1.95" fill="#000000"/>
<circle cx="117.45" cy="209.58" r="1.95" fill="#000000"/>
<circle cx="129.64" cy="203.02" r="1.95" fill="#000000"/>
<circle cx="145.9" cy="196.91" r="1.95" fill="#000000"/>
<circle cx="162.16" cy="188.56" r="1.95" fill="#000000"/>
<g stroke="#222" stroke-width="1" fill="none">
<path d="M214.6 164.1V245.1H336.6"/>
<path d="M211.8 245.1H214.6"/>
<path d="M211.8 228.9H214.6"/>
<path d="M211.8 212.7H214.6"/>
<path d="M211.8 196.5H214.6"/>
<path d="M211.8 180.3H214.6"/>
<path d="M211.8 164.1H214.6"/>
<path d="M214.6 245.1V247.4"/>
<path d="M232.03 245.1V247.4"/>
<path d="M249.46 245.1V247.4"/>
<path d="M266.88 245.1V247.4"/>
<path d="M284.31 245.1V247.4"/>
<path d="M301.74 245.1V247.4"/>
<path d="M319.17 245.1V247.4"/>
<path d="M336.6 245.1V247.4"/>
</g>
<text x="211.4" y="247.75" font-size="6.3" font-weight="normal" text-anchor="end" fill="#404040">0</text>
<text x="211.4" y="231.55" font-size="6.3" font-weight="normal" text-anchor="end" fill="#404040">100</text>
<text x="211.4" y="215.35" font-size="6.3" font-weight="normal" text-anchor="end" fill="#404040">200</text>
<text x="211.4" y="199.15" font-size="6.3" font-weight="normal" text-anchor="end" fill="#404040">300</text>
<text x="211.4" y="182.95" font-size="6.3" font-weight="normal" text-anchor="end" fill="#404040">400</text>
<text x="211.4" y="166.75" font-size="6.3" font-weight="normal" text-anchor="end" fill="#404040">500</text>
<text x="214.6" y="255" font-size="6.3" font-weight="normal" text-anchor="middle" fill="#404040">0</text>
<text x="232.03" y="255" font-size="6.3" font-weight="normal" text-anchor="middle" fill="#404040">4</text>
<text x="249.46" y="255" font-size="6.3" font-weight="normal" text-anchor="middle" fill="#404040">8</text>
<text x="266.88" y="255" font-size="6.3" font-weight="normal" text-anchor="middle" fill="#404040">12</text>
<text x="284.31" y="255" font-size="6.3" font-weight="normal" text-anchor="middle" fill="#404040">16</text>
<text x="301.74" y="255" font-size="6.3" font-weight="normal" text-anchor="middle" fill="#404040">20</text>
<text x="319.17" y="255" font-size="6.3" font-weight="normal" text-anchor="middle" fill="#404040">24</text>
<text x="336.6" y="255" font-size="6.3" font-weight="normal" text-anchor="middle" fill="#404040">28</text>
<text x="275.55" y="262.7" font-size="6.4" font-weight="bold" text-anchor="middle" fill="#111" textLength="15.6" lengthAdjust="spacingAndGlyphs">Days</text>
<text x="275.5" y="155.1" font-size="9.1" font-weight="bold" text-anchor="middle" fill="#111" textLength="41.2" lengthAdjust="spacingAndGlyphs">GXA-3054</text>
<text x="196.8" y="203.9" font-size="6.4" font-weight="bold" fill="#111" text-anchor="middle" transform="rotate(-90 196.8 203.9)" textLength="64.2" lengthAdjust="spacingAndGlyphs">Tumor volume (mm<tspan font-size="4" dy="-3.2">3</tspan><tspan dy="3.2">)</tspan></text>
<g stroke="#8a96c4" stroke-width="0.7" fill="none">
<path d="M227.67 225.34V228.58M226.37 225.34H228.97M226.37 228.58H228.97"/>
<path d="M245.1 236.68V238.3M243.8 236.68H246.4M243.8 238.3H246.4"/>
<path d="M258.17 241.7V242.99M256.87 241.7H259.47M256.87 242.99H259.47"/>
<path d="M275.6 242.83V243.8M274.3 242.83H276.9M274.3 243.8H276.9"/>
<path d="M288.67 243.64V244.61M287.37 243.64H289.97M287.37 244.61H289.97"/>
<path d="M306.1 243.32V244.29M304.8 243.32H307.4M304.8 244.29H307.4"/>
<path d="M319.17 244.45V245.1M317.87 244.45H320.47M317.87 245.1H320.47"/>
<path d="M336.6 244.61V245.1M335.3 244.61H337.9M335.3 245.1H337.9"/>
</g>
<g stroke="#dc8088" stroke-width="0.7" fill="none">
<path d="M227.67 220.96V225.82M226.37 220.96H228.97M226.37 225.82H228.97"/>
<path d="M245.1 219.5V225.98M243.8 219.5H246.4M243.8 225.98H246.4"/>
<path d="M258.17 216.59V224.69M256.87 216.59H259.47M256.87 224.69H259.47"/>
<path d="M275.6 215.13V224.2M274.3 215.13H276.9M274.3 224.2H276.9"/>
<path d="M288.67 215.62V224.69M287.37 215.62H289.97M287.37 224.69H289.97"/>
<path d="M306.1 212.38V222.1M304.8 212.38H307.4M304.8 222.1H307.4"/>
<path d="M319.17 208.97V219.34M317.87 208.97H320.47M317.87 219.34H320.47"/>
<path d="M336.6 203.47V214.81M335.3 203.47H337.9M335.3 214.81H337.9"/>
</g>
<g stroke="#70b48c" stroke-width="0.7" fill="none">
<path d="M227.67 221.77V226.63M226.37 221.77H228.97M226.37 226.63H228.97"/>
<path d="M245.1 225.5V230.36M243.8 225.5H246.4M243.8 230.36H246.4"/>
<path d="M258.17 229.39V234.25M256.87 229.39H259.47M256.87 234.25H259.47"/>
<path d="M275.6 227.6V234.08M274.3 227.6H276.9M274.3 234.08H276.9"/>
<path d="M288.67 227.28V234.41M287.37 227.28H289.97M287.37 234.41H289.97"/>
<path d="M306.1 226.15V234.25M304.8 226.15H307.4M304.8 234.25H307.4"/>
<path d="M319.17 223.23V232.3M317.87 223.23H320.47M317.87 232.3H320.47"/>
<path d="M336.6 218.37V228.09M335.3 218.37H337.9M335.3 228.09H337.9"/>
</g>
<g stroke="#404040" stroke-width="0.7" fill="none">
<path d="M227.67 213.51V219.34M226.37 213.51H228.97M226.37 219.34H228.97"/>
<path d="M245.1 208.81V215.94M243.8 208.81H246.4M243.8 215.94H246.4"/>
<path d="M258.17 198.12V209.46M256.87 198.12H259.47M256.87 209.46H259.47"/>
<path d="M275.6 185.16V199.74M274.3 185.16H276.9M274.3 199.74H276.9"/>
<path d="M288.67 168.64V189.7M287.37 168.64H289.97M287.37 189.7H289.97"/>
</g>
<path d="M214.6 226.96 L227.67 226.96 L245.1 237.49 L258.17 242.35 L275.6 243.32 L288.67 244.13 L306.1 243.8 L319.17 244.78 L336.6 244.94" stroke="#44529c" stroke-width="1.0" fill="none" stroke-linejoin="round"/>
<path d="M214.6 224.96L216.6 228.56L212.6 228.56Z" fill="#26357a"/>
<path d="M227.67 224.96L229.67 228.56L225.67 228.56Z" fill="#26357a"/>
<path d="M245.1 235.49L247.1 239.09L243.1 239.09Z" fill="#26357a"/>
<path d="M258.17 240.35L260.17 243.95L256.17 243.95Z" fill="#26357a"/>
<path d="M275.6 241.32L277.6 244.92L273.6 244.92Z" fill="#26357a"/>
<path d="M288.67 242.13L290.67 245.73L286.67 245.73Z" fill="#26357a"/>
<path d="M306.1 241.8L308.1 245.4L304.1 245.4Z" fill="#26357a"/>
<path d="M319.17 242.78L321.17 246.38L317.17 246.38Z" fill="#26357a"/>
<path d="M336.6 242.94L338.6 246.54L334.6 246.54Z" fill="#26357a"/>
<path d="M214.6 226.96 L227.67 223.39 L245.1 222.74 L258.17 220.64 L275.6 219.67 L288.67 220.15 L306.1 217.24 L319.17 214.16 L336.6 209.14" stroke="#d83a48" stroke-width="1.0" fill="none" stroke-linejoin="round"/>
<path d="M214.6 224.81L216.75 226.96L214.6 229.11L212.45 226.96Z" fill="#c4203a"/>
<path d="M227.67 221.24L229.82 223.39L227.67 225.54L225.52 223.39Z" fill="#c4203a"/>
<path d="M245.1 220.59L247.25 222.74L245.1 224.89L242.95 222.74Z" fill="#c4203a"/>
<path d="M258.17 218.49L260.32 220.64L258.17 222.79L256.02 220.64Z" fill="#c4203a"/>
<path d="M275.6 217.52L277.75 219.67L275.6 221.82L273.45 219.67Z" fill="#c4203a"/>
<path d="M288.67 218L290.82 220.15L288.67 222.3L286.52 220.15Z" fill="#c4203a"/>
<path d="M306.1 215.09L308.25 217.24L306.1 219.39L303.95 217.24Z" fill="#c4203a"/>
<path d="M319.17 212.01L321.32 214.16L319.17 216.31L317.02 214.16Z" fill="#c4203a"/>
<path d="M336.6 206.99L338.75 209.14L336.6 211.29L334.45 209.14Z" fill="#c4203a"/>
<path d="M214.6 226.96 L227.67 224.2 L245.1 227.93 L258.17 231.82 L275.6 230.84 L288.67 230.84 L306.1 230.2 L319.17 227.77 L336.6 223.23" stroke="#2a9462" stroke-width="1.0" fill="none" stroke-linejoin="round"/>
<rect x="212.9" y="225.26" width="3.4" height="3.4" fill="#156c3e"/>
<rect x="225.97" y="222.5" width="3.4" height="3.4" fill="#156c3e"/>
<rect x="243.4" y="226.23" width="3.4" height="3.4" fill="#156c3e"/>
<rect x="256.47" y="230.12" width="3.4" height="3.4" fill="#156c3e"/>
<rect x="273.9" y="229.14" width="3.4" height="3.4" fill="#156c3e"/>
<rect x="286.97" y="229.14" width="3.4" height="3.4" fill="#156c3e"/>
<rect x="304.4" y="228.5" width="3.4" height="3.4" fill="#156c3e"/>
<rect x="317.47" y="226.07" width="3.4" height="3.4" fill="#156c3e"/>
<rect x="334.9" y="221.53" width="3.4" height="3.4" fill="#156c3e"/>
<path d="M214.6 226.96 L227.67 216.43 L245.1 212.38 L258.17 203.79 L275.6 192.45 L288.67 179.17" stroke="#141414" stroke-width="1.0" fill="none" stroke-linejoin="round"/>
<circle cx="214.6" cy="226.96" r="1.95" fill="#000000"/>
<circle cx="227.67" cy="216.43" r="1.95" fill="#000000"/>
<circle cx="245.1" cy="212.38" r="1.95" fill="#000000"/>
<circle cx="258.17" cy="203.79" r="1.95" fill="#000000"/>
<circle cx="275.6" cy="192.45" r="1.95" fill="#000000"/>
<circle cx="288.67" cy="179.17" r="1.95" fill="#000000"/>
<g stroke="#222" stroke-width="1" fill="none">
<path d="M393.2 163.3V245.1H516.1"/>
<path d="M390.4 245.1H393.2"/>
<path d="M390.4 217.83H393.2"/>
<path d="M390.4 190.57H393.2"/>
<path d="M390.4 163.31H393.2"/>
<path d="M393.2 245.1V247.4"/>
<path d="M413.68 245.1V247.4"/>
<path d="M434.16 245.1V247.4"/>
<path d="M454.65 245.1V247.4"/>
<path d="M475.13 245.1V247.4"/>
<path d="M495.61 245.1V247.4"/>
<path d="M516.09 245.1V247.4"/>
</g>
<text x="390" y="247.75" font-size="6.3" font-weight="normal" text-anchor="end" fill="#404040">0</text>
<text x="390" y="220.48" font-size="6.3" font-weight="normal" text-anchor="end" fill="#404040">500</text>
<text x="390" y="193.22" font-size="6.3" font-weight="normal" text-anchor="end" fill="#404040">1,000</text>
<text x="390" y="165.96" font-size="6.3" font-weight="normal" text-anchor="end" fill="#404040">1,500</text>
<text x="393.2" y="255" font-size="6.3" font-weight="normal" text-anchor="middle" fill="#404040">0</text>
<text x="413.68" y="255" font-size="6.3" font-weight="normal" text-anchor="middle" fill="#404040">7</text>
<text x="434.16" y="255" font-size="6.3" font-weight="normal" text-anchor="middle" fill="#404040">14</text>
<text x="454.65" y="255" font-size="6.3" font-weight="normal" text-anchor="middle" fill="#404040">21</text>
<text x="475.13" y="255" font-size="6.3" font-weight="normal" text-anchor="middle" fill="#404040">28</text>
<text x="495.61" y="255" font-size="6.3" font-weight="normal" text-anchor="middle" fill="#404040">35</text>
<text x="516.09" y="255" font-size="6.3" font-weight="normal" text-anchor="middle" fill="#404040">42</text>
<text x="454.3" y="262.7" font-size="6.4" font-weight="bold" text-anchor="middle" fill="#111" textLength="15.6" lengthAdjust="spacingAndGlyphs">Days</text>
<text x="456.3" y="154.1" font-size="9.1" font-weight="bold" text-anchor="middle" fill="#111" textLength="41.2" lengthAdjust="spacingAndGlyphs">GXA-3038</text>
<text x="370.7" y="203.6" font-size="6.4" font-weight="bold" fill="#111" text-anchor="middle" transform="rotate(-90 370.7 203.6)" textLength="64.2" lengthAdjust="spacingAndGlyphs">Tumor volume (mm<tspan font-size="4" dy="-3.2">3</tspan><tspan dy="3.2">)</tspan></text>
<g stroke="#8a96c4" stroke-width="0.7" fill="none">
<path d="M401.98 238.94V239.81M400.68 238.94H403.28M400.68 239.81H403.28"/>
<path d="M413.68 240.96V241.61M412.38 240.96H414.98M412.38 241.61H414.98"/>
<path d="M422.46 242.1V242.65M421.16 242.1H423.76M421.16 242.65H423.76"/>
<path d="M434.16 242.97V243.41M432.86 242.97H435.46M432.86 243.41H435.46"/>
<path d="M442.94 243.52V243.95M441.64 243.52H444.24M441.64 243.95H444.24"/>
<path d="M454.65 243.95V244.28M453.35 243.95H455.95M453.35 244.28H455.95"/>
<path d="M463.42 244.12V244.45M462.12 244.12H464.72M462.12 244.45H464.72"/>
<path d="M475.13 244.17V244.5M473.83 244.17H476.43M473.83 244.5H476.43"/>
<path d="M483.91 244.17V244.5M482.61 244.17H485.21M482.61 244.5H485.21"/>
<path d="M495.61 244.12V244.45M494.31 244.12H496.91M494.31 244.45H496.91"/>
<path d="M504.39 243.95V244.28M503.09 243.95H505.69M503.09 244.28H505.69"/>
<path d="M516.09 243.52V243.95M514.79 243.52H517.39M514.79 243.95H517.39"/>
</g>
<g stroke="#dc8088" stroke-width="0.7" fill="none">
<path d="M401.98 238.34V239.43M400.68 238.34H403.28M400.68 239.43H403.28"/>
<path d="M413.68 240.3V241.39M412.38 240.3H414.98M412.38 241.39H414.98"/>
<path d="M422.46 241.06V242.16M421.16 241.06H423.76M421.16 242.16H423.76"/>
<path d="M434.16 241.94V242.81M432.86 241.94H435.46M432.86 242.81H435.46"/>
<path d="M442.94 242.16V243.03M441.64 242.16H444.24M441.64 243.03H444.24"/>
<path d="M454.65 242.65V243.52M453.35 242.65H455.95M453.35 243.52H455.95"/>
<path d="M463.42 242.76V243.63M462.12 242.76H464.72M462.12 243.63H464.72"/>
<path d="M475.13 242.76V243.63M473.83 242.76H476.43M473.83 243.63H476.43"/>
<path d="M483.91 242.92V243.79M482.61 242.92H485.21M482.61 243.79H485.21"/>
<path d="M495.61 241.56V242.65M494.31 241.56H496.91M494.31 242.65H496.91"/>
<path d="M504.39 238.94V240.25M503.09 238.94H505.69M503.09 240.25H505.69"/>
<path d="M516.09 237.19V238.83M514.79 237.19H517.39M514.79 238.83H517.39"/>
</g>
<g stroke="#70b48c" stroke-width="0.7" fill="none">
<path d="M401.98 235.83V238.01M400.68 235.83H403.28M400.68 238.01H403.28"/>
<path d="M413.68 235.01V238.28M412.38 235.01H414.98M412.38 238.28H414.98"/>
<path d="M422.46 235.01V238.28M421.16 235.01H423.76M421.16 238.28H423.76"/>
<path d="M434.16 233.21V237.57M432.86 233.21H435.46M432.86 237.57H435.46"/>
<path d="M442.94 231.69V236.05M441.64 231.69H444.24M441.64 236.05H444.24"/>
<path d="M454.65 227.6V234.14M453.35 227.6H455.95M453.35 234.14H455.95"/>
<path d="M463.42 222.09V229.72M462.12 222.09H464.72M462.12 229.72H464.72"/>
<path d="M475.13 215.82V224.54M473.83 215.82H476.43M473.83 224.54H476.43"/>
<path d="M483.91 212.49V223.4M482.61 212.49H485.21M482.61 223.4H485.21"/>
<path d="M495.61 206.66V219.74M494.31 206.66H496.91M494.31 219.74H496.91"/>
<path d="M504.39 204.31V219.58M503.09 204.31H505.69M503.09 219.58H505.69"/>
<path d="M516.09 200.39V217.83M514.79 200.39H517.39M514.79 217.83H517.39"/>
</g>
<g stroke="#404040" stroke-width="0.7" fill="none">
<path d="M401.98 235.28V237.47M400.68 235.28H403.28M400.68 237.47H403.28"/>
<path d="M413.68 232.01V235.28M412.38 232.01H414.98M412.38 235.28H414.98"/>
<path d="M422.46 227.7V232.07M421.16 227.7H423.76M421.16 232.07H423.76"/>
<path d="M434.16 220.67V227.21M432.86 220.67H435.46M432.86 227.21H435.46"/>
<path d="M442.94 216.14V223.78M441.64 216.14H444.24M441.64 223.78H444.24"/>
<path d="M454.65 210.09V218.82M453.35 210.09H455.95M453.35 218.82H455.95"/>
<path d="M463.42 201.75V212.65M462.12 201.75H464.72M462.12 212.65H464.72"/>
<path d="M475.13 194.71V207.8M473.83 194.71H476.43M473.83 207.8H476.43"/>
<path d="M483.91 189.64V203.82M482.61 189.64H485.21M482.61 203.82H485.21"/>
<path d="M495.61 183.1V198.37M494.31 183.1H496.91M494.31 198.37H496.91"/>
<path d="M504.39 177.1V193.46M503.09 177.1H505.69M503.09 193.46H505.69"/>
<path d="M516.09 174.76V191.12M514.79 174.76H517.39M514.79 191.12H517.39"/>
</g>
<path d="M393.2 238.12 L401.98 239.37 L413.68 241.28 L422.46 242.37 L434.16 243.19 L442.94 243.74 L454.65 244.12 L463.42 244.28 L475.13 244.34 L483.91 244.34 L495.61 244.28 L504.39 244.12 L516.09 243.74" stroke="#44529c" stroke-width="1.0" fill="none" stroke-linejoin="round"/>
<path d="M393.2 236.12L395.2 239.72L391.2 239.72Z" fill="#26357a"/>
<path d="M401.98 237.37L403.98 240.97L399.98 240.97Z" fill="#26357a"/>
<path d="M413.68 239.28L415.68 242.88L411.68 242.88Z" fill="#26357a"/>
<path d="M422.46 240.37L424.46 243.97L420.46 243.97Z" fill="#26357a"/>
<path d="M434.16 241.19L436.16 244.79L432.16 244.79Z" fill="#26357a"/>
<path d="M442.94 241.74L444.94 245.34L440.94 245.34Z" fill="#26357a"/>
<path d="M454.65 242.12L456.65 245.72L452.65 245.72Z" fill="#26357a"/>
<path d="M463.42 242.28L465.42 245.88L461.42 245.88Z" fill="#26357a"/>
<path d="M475.13 242.34L477.13 245.94L473.13 245.94Z" fill="#26357a"/>
<path d="M483.91 242.34L485.91 245.94L481.91 245.94Z" fill="#26357a"/>
<path d="M495.61 242.28L497.61 245.88L493.61 245.88Z" fill="#26357a"/>
<path d="M504.39 242.12L506.39 245.72L502.39 245.72Z" fill="#26357a"/>
<path d="M516.09 241.74L518.09 245.34L514.09 245.34Z" fill="#26357a"/>
<path d="M393.2 238.12 L401.98 238.88 L413.68 240.85 L422.46 241.61 L434.16 242.37 L442.94 242.59 L454.65 243.08 L463.42 243.19 L475.13 243.19 L483.91 243.36 L495.61 242.1 L504.39 239.59 L516.09 238.01" stroke="#d83a48" stroke-width="1.0" fill="none" stroke-linejoin="round"/>
<path d="M393.2 235.97L395.35 238.12L393.2 240.27L391.05 238.12Z" fill="#c4203a"/>
<path d="M401.98 236.73L404.13 238.88L401.98 241.03L399.83 238.88Z" fill="#c4203a"/>
<path d="M413.68 238.7L415.83 240.85L413.68 243L411.53 240.85Z" fill="#c4203a"/>
<path d="M422.46 239.46L424.61 241.61L422.46 243.76L420.31 241.61Z" fill="#c4203a"/>
<path d="M434.16 240.22L436.31 242.37L434.16 244.52L432.01 242.37Z" fill="#c4203a"/>
<path d="M442.94 240.44L445.09 242.59L442.94 244.74L440.79 242.59Z" fill="#c4203a"/>
<path d="M454.65 240.93L456.8 243.08L454.65 245.23L452.5 243.08Z" fill="#c4203a"/>
<path d="M463.42 241.04L465.57 243.19L463.42 245.34L461.27 243.19Z" fill="#c4203a"/>
<path d="M475.13 241.04L477.28 243.19L475.13 245.34L472.98 243.19Z" fill="#c4203a"/>
<path d="M483.91 241.21L486.06 243.36L483.91 245.51L481.76 243.36Z" fill="#c4203a"/>
<path d="M495.61 239.95L497.76 242.1L495.61 244.25L493.46 242.1Z" fill="#c4203a"/>
<path d="M504.39 237.44L506.54 239.59L504.39 241.74L502.24 239.59Z" fill="#c4203a"/>
<path d="M516.09 235.86L518.24 238.01L516.09 240.16L513.94 238.01Z" fill="#c4203a"/>
<path d="M393.2 238.12 L401.98 236.92 L413.68 236.65 L422.46 236.65 L434.16 235.39 L442.94 233.87 L454.65 230.87 L463.42 225.91 L475.13 220.18 L483.91 217.94 L495.61 213.2 L504.39 211.95 L516.09 209.11" stroke="#2a9462" stroke-width="1.0" fill="none" stroke-linejoin="round"/>
<rect x="391.5" y="236.42" width="3.4" height="3.4" fill="#156c3e"/>
<rect x="400.28" y="235.22" width="3.4" height="3.4" fill="#156c3e"/>
<rect x="411.98" y="234.95" width="3.4" height="3.4" fill="#156c3e"/>
<rect x="420.76" y="234.95" width="3.4" height="3.4" fill="#156c3e"/>
<rect x="432.46" y="233.69" width="3.4" height="3.4" fill="#156c3e"/>
<rect x="441.24" y="232.17" width="3.4" height="3.4" fill="#156c3e"/>
<rect x="452.95" y="229.17" width="3.4" height="3.4" fill="#156c3e"/>
<rect x="461.72" y="224.21" width="3.4" height="3.4" fill="#156c3e"/>
<rect x="473.43" y="218.48" width="3.4" height="3.4" fill="#156c3e"/>
<rect x="482.21" y="216.24" width="3.4" height="3.4" fill="#156c3e"/>
<rect x="493.91" y="211.5" width="3.4" height="3.4" fill="#156c3e"/>
<rect x="502.69" y="210.25" width="3.4" height="3.4" fill="#156c3e"/>
<rect x="514.39" y="207.41" width="3.4" height="3.4" fill="#156c3e"/>
<path d="M393.2 238.12 L401.98 236.38 L413.68 233.65 L422.46 229.89 L434.16 223.94 L442.94 219.96 L454.65 214.45 L463.42 207.2 L475.13 201.26 L483.91 196.73 L495.61 190.73 L504.39 185.28 L516.09 182.94" stroke="#141414" stroke-width="1.0" fill="none" stroke-linejoin="round"/>
<circle cx="393.2" cy="238.12" r="1.95" fill="#000000"/>
<circle cx="401.98" cy="236.38" r="1.95" fill="#000000"/>
<circle cx="413.68" cy="233.65" r="1.95" fill="#000000"/>
<circle cx="422.46" cy="229.89" r="1.95" fill="#000000"/>
<circle cx="434.16" cy="223.94" r="1.95" fill="#000000"/>
<circle cx="442.94" cy="219.96" r="1.95" fill="#000000"/>
<circle cx="454.65" cy="214.45" r="1.95" fill="#000000"/>
<circle cx="463.42" cy="207.2" r="1.95" fill="#000000"/>
<circle cx="475.13" cy="201.26" r="1.95" fill="#000000"/>
<circle cx="483.91" cy="196.73" r="1.95" fill="#000000"/>
<circle cx="495.61" cy="190.73" r="1.95" fill="#000000"/>
<circle cx="504.39" cy="185.28" r="1.95" fill="#000000"/>
<circle cx="516.09" cy="182.94" r="1.95" fill="#000000"/>
<g stroke="#222" stroke-width="1" fill="none">
<path d="M44.4 312.2V392.4H165.4"/>
<path d="M41.6 392.4H44.4"/>
<path d="M41.6 365.66H44.4"/>
<path d="M41.6 338.93H44.4"/>
<path d="M41.6 312.19H44.4"/>
<path d="M44.4 392.4V394.7"/>
<path d="M58.49 392.4V394.7"/>
<path d="M72.58 392.4V394.7"/>
<path d="M86.66 392.4V394.7"/>
<path d="M100.75 392.4V394.7"/>
<path d="M114.84 392.4V394.7"/>
<path d="M128.93 392.4V394.7"/>
<path d="M143.01 392.4V394.7"/>
<path d="M157.1 392.4V394.7"/>
</g>
<text x="41.2" y="395.05" font-size="6.3" font-weight="normal" text-anchor="end" fill="#404040">0</text>
<text x="41.2" y="368.31" font-size="6.3" font-weight="normal" text-anchor="end" fill="#404040">500</text>
<text x="41.2" y="341.58" font-size="6.3" font-weight="normal" text-anchor="end" fill="#404040">1,000</text>
<text x="41.2" y="314.84" font-size="6.3" font-weight="normal" text-anchor="end" fill="#404040">1,500</text>
<text x="44.4" y="402.3" font-size="6.3" font-weight="normal" text-anchor="middle" fill="#404040">0</text>
<text x="58.49" y="402.3" font-size="6.3" font-weight="normal" text-anchor="middle" fill="#404040">7</text>
<text x="72.58" y="402.3" font-size="6.3" font-weight="normal" text-anchor="middle" fill="#404040">14</text>
<text x="86.66" y="402.3" font-size="6.3" font-weight="normal" text-anchor="middle" fill="#404040">21</text>
<text x="100.75" y="402.3" font-size="6.3" font-weight="normal" text-anchor="middle" fill="#404040">28</text>
<text x="114.84" y="402.3" font-size="6.3" font-weight="normal" text-anchor="middle" fill="#404040">35</text>
<text x="128.93" y="402.3" font-size="6.3" font-weight="normal" text-anchor="middle" fill="#404040">42</text>
<text x="143.01" y="402.3" font-size="6.3" font-weight="normal" text-anchor="middle" fill="#404040">49</text>
<text x="157.1" y="402.3" font-size="6.3" font-weight="normal" text-anchor="middle" fill="#404040">56</text>
<text x="104.45" y="410" font-size="6.4" font-weight="bold" text-anchor="middle" fill="#111" textLength="15.6" lengthAdjust="spacingAndGlyphs">Days</text>
<text x="104.65" y="303" font-size="9.1" font-weight="bold" text-anchor="middle" fill="#111" textLength="41.2" lengthAdjust="spacingAndGlyphs">CTG-0383</text>
<text x="22.7" y="350.6" font-size="6.4" font-weight="bold" fill="#111" text-anchor="middle" transform="rotate(-90 22.7 350.6)" textLength="64.2" lengthAdjust="spacingAndGlyphs">Tumor volume (mm<tspan font-size="4" dy="-3.2">3</tspan><tspan dy="3.2">)</tspan></text>
<g stroke="#8a96c4" stroke-width="0.7" fill="none">
<path d="M50.44 380.69V382.83M49.14 380.69H51.74M49.14 382.83H51.74"/>
<path d="M58.49 382.19V384.33M57.19 382.19H59.79M57.19 384.33H59.79"/>
<path d="M64.53 386.95V388.02M63.23 386.95H65.83M63.23 388.02H65.83"/>
<path d="M72.58 386.95V388.02M71.28 386.95H73.88M71.28 388.02H73.88"/>
<path d="M78.61 386.95V388.02M77.31 386.95H79.91M77.31 388.02H79.91"/>
<path d="M86.66 386.95V388.02M85.36 386.95H87.96M85.36 388.02H87.96"/>
<path d="M92.7 386.95V388.02M91.4 386.95H94M91.4 388.02H94"/>
<path d="M100.75 387.16V388.23M99.45 387.16H102.05M99.45 388.23H102.05"/>
<path d="M106.79 385.93V387M105.49 385.93H108.09M105.49 387H108.09"/>
<path d="M114.84 385.93V387M113.54 385.93H116.14M113.54 387H116.14"/>
<path d="M120.88 385.93V387M119.58 385.93H122.17M119.58 387H122.17"/>
<path d="M128.93 386.46V387.53M127.63 386.46H130.23M127.63 387.53H130.23"/>
<path d="M132.95 386.68V387.75M131.65 386.68H134.25M131.65 387.75H134.25"/>
<path d="M143.01 387.8V388.66M141.71 387.8H144.31M141.71 388.66H144.31"/>
<path d="M149.05 387.8V388.66M147.75 387.8H150.35M147.75 388.66H150.35"/>
<path d="M157.1 386.95V388.02M155.8 386.95H158.4M155.8 388.02H158.4"/>
<path d="M163.14 385.61V386.89M161.84 385.61H164.44M161.84 386.89H164.44"/>
</g>
<g stroke="#dc8088" stroke-width="0.7" fill="none">
<path d="M50.44 379.73V382.94M49.14 379.73H51.74M49.14 382.94H51.74"/>
<path d="M58.49 380.42V383.63M57.19 380.42H59.79M57.19 383.63H59.79"/>
<path d="M64.53 383.42V386.09M63.23 383.42H65.83M63.23 386.09H65.83"/>
<path d="M72.58 382.67V385.34M71.28 382.67H73.88M71.28 385.34H73.88"/>
<path d="M78.61 382.67V385.34M77.31 382.67H79.91M77.31 385.34H79.91"/>
<path d="M86.66 381.65V384.86M85.36 381.65H87.96M85.36 384.86H87.96"/>
<path d="M92.7 381.65V384.86M91.4 381.65H94M91.4 384.86H94"/>
<path d="M100.75 381.92V385.13M99.45 381.92H102.05M99.45 385.13H102.05"/>
<path d="M106.79 378.44V382.72M105.49 378.44H108.09M105.49 382.72H108.09"/>
<path d="M114.84 378.66V382.94M113.54 378.66H116.14M113.54 382.94H116.14"/>
<path d="M120.88 378.66V382.94M119.58 378.66H122.17M119.58 382.94H122.17"/>
<path d="M128.93 378.66V382.94M127.63 378.66H130.23M127.63 382.94H130.23"/>
<path d="M132.95 374.17V380.58M131.65 374.17H134.25M131.65 380.58H134.25"/>
<path d="M143.01 368.66V377.21M141.71 368.66H144.31M141.71 377.21H144.31"/>
<path d="M149.05 366.36V375.98M147.75 366.36H150.35M147.75 375.98H150.35"/>
<path d="M157.1 361.87V373.63M155.8 361.87H158.4M155.8 373.63H158.4"/>
<path d="M163.14 355.51V371.55M161.84 355.51H164.44M161.84 371.55H164.44"/>
</g>
<g stroke="#70b48c" stroke-width="0.7" fill="none">
<path d="M50.44 378.5V381.71M49.14 378.5H51.74M49.14 381.71H51.74"/>
<path d="M58.49 377.96V381.17M57.19 377.96H59.79M57.19 381.17H59.79"/>
<path d="M64.53 379.73V382.94M63.23 379.73H65.83M63.23 382.94H65.83"/>
<path d="M72.58 379.19V382.4M71.28 379.19H73.88M71.28 382.4H73.88"/>
<path d="M78.61 379.19V382.4M77.31 379.19H79.91M77.31 382.4H79.91"/>
<path d="M86.66 378.98V382.19M85.36 378.98H87.96M85.36 382.19H87.96"/>
<path d="M92.7 377.43V381.71M91.4 377.43H94M91.4 381.71H94"/>
<path d="M100.75 374.7V380.05M99.45 374.7H102.05M99.45 380.05H102.05"/>
<path d="M106.79 369.94V376.36M105.49 369.94H108.09M105.49 376.36H108.09"/>
<path d="M114.84 371.17V377.59M113.54 371.17H116.14M113.54 377.59H116.14"/>
<path d="M120.88 371.17V377.59M119.58 371.17H122.17M119.58 377.59H122.17"/>
<path d="M128.93 369.68V377.16M127.63 369.68H130.23M127.63 377.16H130.23"/>
<path d="M132.95 366.89V375.45M131.65 366.89H134.25M131.65 375.45H134.25"/>
<path d="M143.01 367.11V376.73M141.71 367.11H144.31M141.71 376.73H144.31"/>
<path d="M149.05 363.63V374.33M147.75 363.63H150.35M147.75 374.33H150.35"/>
<path d="M157.1 360.85V373.69M155.8 360.85H158.4M155.8 373.69H158.4"/>
<path d="M163.14 356.31V371.28M161.84 356.31H164.44M161.84 371.28H164.44"/>
</g>
<g stroke="#404040" stroke-width="0.7" fill="none">
<path d="M50.44 377.75V380.96M49.14 377.75H51.74M49.14 380.96H51.74"/>
<path d="M58.49 377.48V380.69M57.19 377.48H59.79M57.19 380.69H59.79"/>
<path d="M64.53 378.98V382.19M63.23 378.98H65.83M63.23 382.19H65.83"/>
<path d="M72.58 374.49V378.77M71.28 374.49H73.88M71.28 378.77H73.88"/>
<path d="M78.61 374.49V378.77M77.31 374.49H79.91M77.31 378.77H79.91"/>
<path d="M86.66 371.71V377.05M85.36 371.71H87.96M85.36 377.05H87.96"/>
<path d="M92.7 366.52V372.94M91.4 366.52H94M91.4 372.94H94"/>
<path d="M100.75 359.25V367.8M99.45 359.25H102.05M99.45 367.8H102.05"/>
<path d="M106.79 354.01V364.7M105.49 354.01H108.09M105.49 364.7H108.09"/>
<path d="M114.84 351.01V362.78M113.54 351.01H116.14M113.54 362.78H116.14"/>
<path d="M120.88 348.77V361.6M119.58 348.77H122.17M119.58 361.6H122.17"/>
<path d="M128.93 340V356.04M127.63 340H130.23M127.63 356.04H130.23"/>
<path d="M132.95 337.75V354.86M131.65 337.75H134.25M131.65 354.86H134.25"/>
<path d="M143.01 331.5V350.75M141.71 331.5H144.31M141.71 350.75H144.31"/>
<path d="M149.05 327.7V349.09M147.75 327.7H150.35M147.75 349.09H150.35"/>
<path d="M157.1 320.48V344.01M155.8 320.48H158.4M155.8 344.01H158.4"/>
<path d="M163.14 316.95V341.55M161.84 316.95H164.44M161.84 341.55H164.44"/>
</g>
<path d="M44.4 380.8 L50.44 381.76 L58.49 383.26 L64.53 387.48 L72.58 387.48 L78.61 387.48 L86.66 387.48 L92.7 387.48 L100.75 387.69 L106.79 386.46 L114.84 386.46 L120.88 386.46 L128.93 387 L132.95 387.21 L143.01 388.23 L149.05 388.23 L157.1 387.48 L163.14 386.25" stroke="#44529c" stroke-width="1.0" fill="none" stroke-linejoin="round"/>
<path d="M44.4 378.8L46.4 382.4L42.4 382.4Z" fill="#26357a"/>
<path d="M50.44 379.76L52.44 383.36L48.44 383.36Z" fill="#26357a"/>
<path d="M58.49 381.26L60.49 384.86L56.49 384.86Z" fill="#26357a"/>
<path d="M64.53 385.48L66.53 389.08L62.53 389.08Z" fill="#26357a"/>
<path d="M72.58 385.48L74.58 389.08L70.58 389.08Z" fill="#26357a"/>
<path d="M78.61 385.48L80.61 389.08L76.61 389.08Z" fill="#26357a"/>
<path d="M86.66 385.48L88.66 389.08L84.66 389.08Z" fill="#26357a"/>
<path d="M92.7 385.48L94.7 389.08L90.7 389.08Z" fill="#26357a"/>
<path d="M100.75 385.69L102.75 389.29L98.75 389.29Z" fill="#26357a"/>
<path d="M106.79 384.46L108.79 388.06L104.79 388.06Z" fill="#26357a"/>
<path d="M114.84 384.46L116.84 388.06L112.84 388.06Z" fill="#26357a"/>
<path d="M120.88 384.46L122.88 388.06L118.88 388.06Z" fill="#26357a"/>
<path d="M128.93 385L130.93 388.6L126.93 388.6Z" fill="#26357a"/>
<path d="M132.95 385.21L134.95 388.81L130.95 388.81Z" fill="#26357a"/>
<path d="M143.01 386.23L145.01 389.83L141.01 389.83Z" fill="#26357a"/>
<path d="M149.05 386.23L151.05 389.83L147.05 389.83Z" fill="#26357a"/>
<path d="M157.1 385.48L159.1 389.08L155.1 389.08Z" fill="#26357a"/>
<path d="M163.14 384.25L165.14 387.85L161.14 387.85Z" fill="#26357a"/>
<path d="M44.4 380.8 L50.44 381.33 L58.49 382.03 L64.53 384.75 L72.58 384.01 L78.61 384.01 L86.66 383.26 L92.7 383.26 L100.75 383.52 L106.79 380.58 L114.84 380.8 L120.88 380.8 L128.93 380.8 L132.95 377.37 L143.01 372.94 L149.05 371.17 L157.1 367.75 L163.14 363.53" stroke="#d83a48" stroke-width="1.0" fill="none" stroke-linejoin="round"/>
<path d="M44.4 378.65L46.55 380.8L44.4 382.95L42.25 380.8Z" fill="#c4203a"/>
<path d="M50.44 379.18L52.59 381.33L50.44 383.48L48.29 381.33Z" fill="#c4203a"/>
<path d="M58.49 379.88L60.64 382.03L58.49 384.18L56.34 382.03Z" fill="#c4203a"/>
<path d="M64.53 382.6L66.68 384.75L64.53 386.9L62.38 384.75Z" fill="#c4203a"/>
<path d="M72.58 381.86L74.73 384.01L72.58 386.16L70.42 384.01Z" fill="#c4203a"/>
<path d="M78.61 381.86L80.76 384.01L78.61 386.16L76.46 384.01Z" fill="#c4203a"/>
<path d="M86.66 381.11L88.81 383.26L86.66 385.41L84.51 383.26Z" fill="#c4203a"/>
<path d="M92.7 381.11L94.85 383.26L92.7 385.41L90.55 383.26Z" fill="#c4203a"/>
<path d="M100.75 381.37L102.9 383.52L100.75 385.67L98.6 383.52Z" fill="#c4203a"/>
<path d="M106.79 378.43L108.94 380.58L106.79 382.73L104.64 380.58Z" fill="#c4203a"/>
<path d="M114.84 378.65L116.99 380.8L114.84 382.95L112.69 380.8Z" fill="#c4203a"/>
<path d="M120.88 378.65L123.03 380.8L120.88 382.95L118.72 380.8Z" fill="#c4203a"/>
<path d="M128.93 378.65L131.08 380.8L128.93 382.95L126.78 380.8Z" fill="#c4203a"/>
<path d="M132.95 375.22L135.1 377.37L132.95 379.52L130.8 377.37Z" fill="#c4203a"/>
<path d="M143.01 370.79L145.16 372.94L143.01 375.09L140.86 372.94Z" fill="#c4203a"/>
<path d="M149.05 369.02L151.2 371.17L149.05 373.32L146.9 371.17Z" fill="#c4203a"/>
<path d="M157.1 365.6L159.25 367.75L157.1 369.9L154.95 367.75Z" fill="#c4203a"/>
<path d="M163.14 361.38L165.29 363.53L163.14 365.68L160.99 363.53Z" fill="#c4203a"/>
<path d="M44.4 380.8 L50.44 380.1 L58.49 379.57 L64.53 381.33 L72.58 380.8 L78.61 380.8 L86.66 380.58 L92.7 379.57 L100.75 377.37 L106.79 373.15 L114.84 374.38 L120.88 374.38 L128.93 373.42 L132.95 371.17 L143.01 371.92 L149.05 368.98 L157.1 367.27 L163.14 363.79" stroke="#2a9462" stroke-width="1.0" fill="none" stroke-linejoin="round"/>
<rect x="42.7" y="379.1" width="3.4" height="3.4" fill="#156c3e"/>
<rect x="48.74" y="378.4" width="3.4" height="3.4" fill="#156c3e"/>
<rect x="56.79" y="377.87" width="3.4" height="3.4" fill="#156c3e"/>
<rect x="62.83" y="379.63" width="3.4" height="3.4" fill="#156c3e"/>
<rect x="70.88" y="379.1" width="3.4" height="3.4" fill="#156c3e"/>
<rect x="76.91" y="379.1" width="3.4" height="3.4" fill="#156c3e"/>
<rect x="84.96" y="378.88" width="3.4" height="3.4" fill="#156c3e"/>
<rect x="91" y="377.87" width="3.4" height="3.4" fill="#156c3e"/>
<rect x="99.05" y="375.67" width="3.4" height="3.4" fill="#156c3e"/>
<rect x="105.09" y="371.45" width="3.4" height="3.4" fill="#156c3e"/>
<rect x="113.14" y="372.68" width="3.4" height="3.4" fill="#156c3e"/>
<rect x="119.17" y="372.68" width="3.4" height="3.4" fill="#156c3e"/>
<rect x="127.23" y="371.72" width="3.4" height="3.4" fill="#156c3e"/>
<rect x="131.25" y="369.47" width="3.4" height="3.4" fill="#156c3e"/>
<rect x="141.31" y="370.22" width="3.4" height="3.4" fill="#156c3e"/>
<rect x="147.35" y="367.28" width="3.4" height="3.4" fill="#156c3e"/>
<rect x="155.4" y="365.57" width="3.4" height="3.4" fill="#156c3e"/>
<rect x="161.44" y="362.09" width="3.4" height="3.4" fill="#156c3e"/>
<path d="M44.4 380.8 L50.44 379.35 L58.49 379.09 L64.53 380.58 L72.58 376.63 L78.61 376.63 L86.66 374.38 L92.7 369.73 L100.75 363.53 L106.79 359.36 L114.84 356.9 L120.88 355.18 L128.93 348.02 L132.95 346.31 L143.01 341.12 L149.05 338.4 L157.1 332.25 L163.14 329.25" stroke="#141414" stroke-width="1.0" fill="none" stroke-linejoin="round"/>
<circle cx="44.4" cy="380.8" r="1.95" fill="#000000"/>
<circle cx="50.44" cy="379.35" r="1.95" fill="#000000"/>
<circle cx="58.49" cy="379.09" r="1.95" fill="#000000"/>
<circle cx="64.53" cy="380.58" r="1.95" fill="#000000"/>
<circle cx="72.58" cy="376.63" r="1.95" fill="#000000"/>
<circle cx="78.61" cy="376.63" r="1.95" fill="#000000"/>
<circle cx="86.66" cy="374.38" r="1.95" fill="#000000"/>
<circle cx="92.7" cy="369.73" r="1.95" fill="#000000"/>
<circle cx="100.75" cy="363.53" r="1.95" fill="#000000"/>
<circle cx="106.79" cy="359.36" r="1.95" fill="#000000"/>
<circle cx="114.84" cy="356.9" r="1.95" fill="#000000"/>
<circle cx="120.88" cy="355.18" r="1.95" fill="#000000"/>
<circle cx="128.93" cy="348.02" r="1.95" fill="#000000"/>
<circle cx="132.95" cy="346.31" r="1.95" fill="#000000"/>
<circle cx="143.01" cy="341.12" r="1.95" fill="#000000"/>
<circle cx="149.05" cy="338.4" r="1.95" fill="#000000"/>
<circle cx="157.1" cy="332.25" r="1.95" fill="#000000"/>
<circle cx="163.14" cy="329.25" r="1.95" fill="#000000"/>
<g stroke="#222" stroke-width="1" fill="none">
<path d="M214.4 311.8V392.35H335.7"/>
<path d="M211.6 392.35H214.4"/>
<path d="M211.6 372.21H214.4"/>
<path d="M211.6 352.07H214.4"/>
<path d="M211.6 331.93H214.4"/>
<path d="M211.6 311.79H214.4"/>
<path d="M214.4 392.35V394.65"/>
<path d="M229 392.35V394.65"/>
<path d="M243.59 392.35V394.65"/>
<path d="M258.19 392.35V394.65"/>
<path d="M272.78 392.35V394.65"/>
<path d="M287.38 392.35V394.65"/>
<path d="M301.97 392.35V394.65"/>
<path d="M316.56 392.35V394.65"/>
<path d="M331.16 392.35V394.65"/>
</g>
<text x="211.2" y="395" font-size="6.3" font-weight="normal" text-anchor="end" fill="#404040">0</text>
<text x="211.2" y="374.86" font-size="6.3" font-weight="normal" text-anchor="end" fill="#404040">500</text>
<text x="211.2" y="354.72" font-size="6.3" font-weight="normal" text-anchor="end" fill="#404040">1,000</text>
<text x="211.2" y="334.58" font-size="6.3" font-weight="normal" text-anchor="end" fill="#404040">1,500</text>
<text x="211.2" y="314.44" font-size="6.3" font-weight="normal" text-anchor="end" fill="#404040">2,000</text>
<text x="214.4" y="402.25" font-size="6.3" font-weight="normal" text-anchor="middle" fill="#404040">0</text>
<text x="229" y="402.25" font-size="6.3" font-weight="normal" text-anchor="middle" fill="#404040">7</text>
<text x="243.59" y="402.25" font-size="6.3" font-weight="normal" text-anchor="middle" fill="#404040">14</text>
<text x="258.19" y="402.25" font-size="6.3" font-weight="normal" text-anchor="middle" fill="#404040">21</text>
<text x="272.78" y="402.25" font-size="6.3" font-weight="normal" text-anchor="middle" fill="#404040">28</text>
<text x="287.38" y="402.25" font-size="6.3" font-weight="normal" text-anchor="middle" fill="#404040">35</text>
<text x="301.97" y="402.25" font-size="6.3" font-weight="normal" text-anchor="middle" fill="#404040">42</text>
<text x="316.56" y="402.25" font-size="6.3" font-weight="normal" text-anchor="middle" fill="#404040">49</text>
<text x="331.16" y="402.25" font-size="6.3" font-weight="normal" text-anchor="middle" fill="#404040">56</text>
<text x="274.75" y="409.95" font-size="6.4" font-weight="bold" text-anchor="middle" fill="#111" textLength="15.6" lengthAdjust="spacingAndGlyphs">Days</text>
<text x="274.5" y="299.6" font-size="9.1" font-weight="bold" text-anchor="middle" fill="#111" textLength="41.2" lengthAdjust="spacingAndGlyphs">CTG-0121</text>
<text x="193.4" y="351.2" font-size="6.4" font-weight="bold" fill="#111" text-anchor="middle" transform="rotate(-90 193.4 351.2)" textLength="64.2" lengthAdjust="spacingAndGlyphs">Tumor volume (mm<tspan font-size="4" dy="-3.2">3</tspan><tspan dy="3.2">)</tspan></text>
<g stroke="#8a96c4" stroke-width="0.7" fill="none">
<path d="M222.74 385.74V386.55M221.44 385.74H224.04M221.44 386.55H224.04"/>
<path d="M229 388.24V389.05M227.69 388.24H230.3M227.69 389.05H230.3"/>
<path d="M239.42 390.17V390.58M238.12 390.17H240.72M238.12 390.58H240.72"/>
<path d="M243.59 390.42V390.82M242.29 390.42H244.89M242.29 390.82H244.89"/>
<path d="M251.93 390.66V391.06M250.63 390.66H253.23M250.63 391.06H253.23"/>
<path d="M258.19 390.66V391.06M256.88 390.66H259.49M256.88 391.06H259.49"/>
<path d="M266.52 390.66V391.06M265.22 390.66H267.82M265.22 391.06H267.82"/>
<path d="M274.87 390.66V391.06M273.56 390.66H276.17M273.56 391.06H276.17"/>
<path d="M281.12 390.66V391.06M279.82 390.66H282.42M279.82 391.06H282.42"/>
<path d="M287.38 390.66V391.06M286.07 390.66H288.68M286.07 391.06H288.68"/>
<path d="M297.8 390.66V391.06M296.5 390.66H299.1M296.5 391.06H299.1"/>
<path d="M304.06 390.66V391.06M302.75 390.66H305.36M302.75 391.06H305.36"/>
<path d="M312.39 390.66V391.06M311.09 390.66H313.69M311.09 391.06H313.69"/>
<path d="M318.65 390.66V391.06M317.35 390.66H319.95M317.35 391.06H319.95"/>
<path d="M326.99 390.66V391.06M325.69 390.66H328.29M325.69 391.06H328.29"/>
<path d="M333.25 390.66V391.06M331.94 390.66H334.55M331.94 391.06H334.55"/>
</g>
<g stroke="#dc8088" stroke-width="0.7" fill="none">
<path d="M222.74 385.06V386.27M221.44 385.06H224.04M221.44 386.27H224.04"/>
<path d="M229 386.03V387.23M227.69 386.03H230.3M227.69 387.23H230.3"/>
<path d="M239.42 386.55V387.76M238.12 386.55H240.72M238.12 387.76H240.72"/>
<path d="M243.59 386.79V388M242.29 386.79H244.89M242.29 388H244.89"/>
<path d="M251.93 386.79V388M250.63 386.79H253.23M250.63 388H253.23"/>
<path d="M258.19 386.31V387.52M256.88 386.31H259.49M256.88 387.52H259.49"/>
<path d="M266.52 386.31V387.52M265.22 386.31H267.82M265.22 387.52H267.82"/>
<path d="M274.87 384.62V386.23M273.56 384.62H276.17M273.56 386.23H276.17"/>
<path d="M281.12 384.62V386.23M279.82 384.62H282.42M279.82 386.23H282.42"/>
<path d="M287.38 384.62V386.23M286.07 384.62H288.68M286.07 386.23H288.68"/>
<path d="M297.8 383.37V384.98M296.5 383.37H299.1M296.5 384.98H299.1"/>
<path d="M304.06 382.12V383.73M302.75 382.12H305.36M302.75 383.73H305.36"/>
<path d="M312.39 381.43V383.45M311.09 381.43H313.69M311.09 383.45H313.69"/>
<path d="M318.65 379.42V381.43M317.35 379.42H319.95M317.35 381.43H319.95"/>
<path d="M326.99 377.77V380.19M325.69 377.77H328.29M325.69 380.19H328.29"/>
<path d="M333.25 377.77V380.19M331.94 377.77H334.55M331.94 380.19H334.55"/>
</g>
<g stroke="#70b48c" stroke-width="0.7" fill="none">
<path d="M222.74 383.61V385.22M221.44 383.61H224.04M221.44 385.22H224.04"/>
<path d="M229 380.31V383.53M227.69 380.31H230.3M227.69 383.53H230.3"/>
<path d="M239.42 383.61V385.22M238.12 383.61H240.72M238.12 385.22H240.72"/>
<path d="M243.59 385.34V386.95M242.29 385.34H244.89M242.29 386.95H244.89"/>
<path d="M251.93 385.82V387.44M250.63 385.82H253.23M250.63 387.44H253.23"/>
<path d="M258.19 385.82V387.44M256.88 385.82H259.49M256.88 387.44H259.49"/>
<path d="M266.52 385.82V387.44M265.22 385.82H267.82M265.22 387.44H267.82"/>
<path d="M274.87 385.58V387.19M273.56 385.58H276.17M273.56 387.19H276.17"/>
<path d="M281.12 385.82V387.44M279.82 385.82H282.42M279.82 387.44H282.42"/>
<path d="M287.38 385.82V387.44M286.07 385.82H288.68M286.07 387.44H288.68"/>
<path d="M297.8 385.7V387.31M296.5 385.7H299.1M296.5 387.31H299.1"/>
<path d="M304.06 385.7V387.31M302.75 385.7H305.36M302.75 387.31H305.36"/>
<path d="M312.39 385.7V387.31M311.09 385.7H313.69M311.09 387.31H313.69"/>
<path d="M318.65 385.7V387.31M317.35 385.7H319.95M317.35 387.31H319.95"/>
<path d="M326.99 385.1V386.71M325.69 385.1H328.29M325.69 386.71H328.29"/>
<path d="M333.25 385.82V387.44M331.94 385.82H334.55M331.94 387.44H334.55"/>
</g>
<g stroke="#404040" stroke-width="0.7" fill="none">
<path d="M222.74 379.5V381.92M221.44 379.5H224.04M221.44 381.92H224.04"/>
<path d="M229 376.2V380.23M227.69 376.2H230.3M227.69 380.23H230.3"/>
<path d="M239.42 371.08V375.92M238.12 371.08H240.72M238.12 375.92H240.72"/>
<path d="M243.59 370.2V375.84M242.29 370.2H244.89M242.29 375.84H244.89"/>
<path d="M251.93 366.33V372.77M250.63 366.33H253.23M250.63 372.77H253.23"/>
<path d="M258.19 363.43V370.68M256.88 363.43H259.49M256.88 370.68H259.49"/>
<path d="M266.52 360.53V368.58M265.22 360.53H267.82M265.22 368.58H267.82"/>
<path d="M274.87 353.28V362.95M273.56 353.28H276.17M273.56 362.95H276.17"/>
<path d="M281.12 348.93V359.4M279.82 348.93H282.42M279.82 359.4H282.42"/>
<path d="M287.38 347.68V358.15M286.07 347.68H288.68M286.07 358.15H288.68"/>
<path d="M297.8 342.81V354.08M296.5 342.81H299.1M296.5 354.08H299.1"/>
<path d="M304.06 337.29V350.18M302.75 337.29H305.36M302.75 350.18H305.36"/>
<path d="M312.39 337.89V351.59M311.09 337.89H313.69M311.09 351.59H313.69"/>
<path d="M318.65 331.73V347.84M317.35 331.73H319.95M317.35 347.84H319.95"/>
<path d="M326.99 325.28V343.81M325.69 325.28H328.29M325.69 343.81H328.29"/>
<path d="M333.25 317.55V337.69M331.94 317.55H334.55M331.94 337.69H334.55"/>
</g>
<path d="M214.4 384.41 L222.74 386.15 L229 388.64 L239.42 390.38 L243.59 390.62 L251.93 390.86 L258.19 390.86 L266.52 390.86 L274.87 390.86 L281.12 390.86 L287.38 390.86 L297.8 390.86 L304.06 390.86 L312.39 390.86 L318.65 390.86 L326.99 390.86 L333.25 390.86" stroke="#44529c" stroke-width="1.0" fill="none" stroke-linejoin="round"/>
<path d="M214.4 382.41L216.4 386.01L212.4 386.01Z" fill="#26357a"/>
<path d="M222.74 384.15L224.74 387.75L220.74 387.75Z" fill="#26357a"/>
<path d="M229 386.64L231 390.24L227 390.24Z" fill="#26357a"/>
<path d="M239.42 388.38L241.42 391.98L237.42 391.98Z" fill="#26357a"/>
<path d="M243.59 388.62L245.59 392.22L241.59 392.22Z" fill="#26357a"/>
<path d="M251.93 388.86L253.93 392.46L249.93 392.46Z" fill="#26357a"/>
<path d="M258.19 388.86L260.19 392.46L256.19 392.46Z" fill="#26357a"/>
<path d="M266.52 388.86L268.52 392.46L264.52 392.46Z" fill="#26357a"/>
<path d="M274.87 388.86L276.87 392.46L272.87 392.46Z" fill="#26357a"/>
<path d="M281.12 388.86L283.12 392.46L279.12 392.46Z" fill="#26357a"/>
<path d="M287.38 388.86L289.38 392.46L285.38 392.46Z" fill="#26357a"/>
<path d="M297.8 388.86L299.8 392.46L295.8 392.46Z" fill="#26357a"/>
<path d="M304.06 388.86L306.06 392.46L302.06 392.46Z" fill="#26357a"/>
<path d="M312.39 388.86L314.39 392.46L310.39 392.46Z" fill="#26357a"/>
<path d="M318.65 388.86L320.65 392.46L316.65 392.46Z" fill="#26357a"/>
<path d="M326.99 388.86L328.99 392.46L324.99 392.46Z" fill="#26357a"/>
<path d="M333.25 388.86L335.25 392.46L331.25 392.46Z" fill="#26357a"/>
<path d="M214.4 384.41 L222.74 385.66 L229 386.63 L239.42 387.15 L243.59 387.4 L251.93 387.4 L258.19 386.91 L266.52 386.91 L274.87 385.42 L281.12 385.42 L287.38 385.42 L297.8 384.17 L304.06 382.92 L312.39 382.44 L318.65 380.43 L326.99 378.98 L333.25 378.98" stroke="#d83a48" stroke-width="1.0" fill="none" stroke-linejoin="round"/>
<path d="M214.4 382.26L216.55 384.41L214.4 386.56L212.25 384.41Z" fill="#c4203a"/>
<path d="M222.74 383.51L224.89 385.66L222.74 387.81L220.59 385.66Z" fill="#c4203a"/>
<path d="M229 384.48L231.15 386.63L229 388.78L226.84 386.63Z" fill="#c4203a"/>
<path d="M239.42 385L241.57 387.15L239.42 389.3L237.27 387.15Z" fill="#c4203a"/>
<path d="M243.59 385.25L245.74 387.4L243.59 389.55L241.44 387.4Z" fill="#c4203a"/>
<path d="M251.93 385.25L254.08 387.4L251.93 389.55L249.78 387.4Z" fill="#c4203a"/>
<path d="M258.19 384.76L260.33 386.91L258.19 389.06L256.04 386.91Z" fill="#c4203a"/>
<path d="M266.52 384.76L268.67 386.91L266.52 389.06L264.38 386.91Z" fill="#c4203a"/>
<path d="M274.87 383.27L277.01 385.42L274.87 387.57L272.72 385.42Z" fill="#c4203a"/>
<path d="M281.12 383.27L283.27 385.42L281.12 387.57L278.97 385.42Z" fill="#c4203a"/>
<path d="M287.38 383.27L289.52 385.42L287.38 387.57L285.23 385.42Z" fill="#c4203a"/>
<path d="M297.8 382.02L299.95 384.17L297.8 386.32L295.65 384.17Z" fill="#c4203a"/>
<path d="M304.06 380.77L306.2 382.92L304.06 385.07L301.91 382.92Z" fill="#c4203a"/>
<path d="M312.39 380.29L314.54 382.44L312.39 384.59L310.25 382.44Z" fill="#c4203a"/>
<path d="M318.65 378.28L320.8 380.43L318.65 382.58L316.5 380.43Z" fill="#c4203a"/>
<path d="M326.99 376.83L329.14 378.98L326.99 381.13L324.84 378.98Z" fill="#c4203a"/>
<path d="M333.25 376.83L335.39 378.98L333.25 381.13L331.1 378.98Z" fill="#c4203a"/>
<path d="M214.4 384.41 L222.74 384.41 L229 381.92 L239.42 384.41 L243.59 386.15 L251.93 386.63 L258.19 386.63 L266.52 386.63 L274.87 386.39 L281.12 386.63 L287.38 386.63 L297.8 386.51 L304.06 386.51 L312.39 386.51 L318.65 386.51 L326.99 385.91 L333.25 386.63" stroke="#2a9462" stroke-width="1.0" fill="none" stroke-linejoin="round"/>
<rect x="212.7" y="382.71" width="3.4" height="3.4" fill="#156c3e"/>
<rect x="221.04" y="382.71" width="3.4" height="3.4" fill="#156c3e"/>
<rect x="227.3" y="380.22" width="3.4" height="3.4" fill="#156c3e"/>
<rect x="237.72" y="382.71" width="3.4" height="3.4" fill="#156c3e"/>
<rect x="241.89" y="384.45" width="3.4" height="3.4" fill="#156c3e"/>
<rect x="250.23" y="384.93" width="3.4" height="3.4" fill="#156c3e"/>
<rect x="256.49" y="384.93" width="3.4" height="3.4" fill="#156c3e"/>
<rect x="264.82" y="384.93" width="3.4" height="3.4" fill="#156c3e"/>
<rect x="273.17" y="384.69" width="3.4" height="3.4" fill="#156c3e"/>
<rect x="279.42" y="384.93" width="3.4" height="3.4" fill="#156c3e"/>
<rect x="285.68" y="384.93" width="3.4" height="3.4" fill="#156c3e"/>
<rect x="296.1" y="384.81" width="3.4" height="3.4" fill="#156c3e"/>
<rect x="302.36" y="384.81" width="3.4" height="3.4" fill="#156c3e"/>
<rect x="310.69" y="384.81" width="3.4" height="3.4" fill="#156c3e"/>
<rect x="316.95" y="384.81" width="3.4" height="3.4" fill="#156c3e"/>
<rect x="325.29" y="384.21" width="3.4" height="3.4" fill="#156c3e"/>
<rect x="331.55" y="384.93" width="3.4" height="3.4" fill="#156c3e"/>
<path d="M214.4 384.41 L222.74 380.71 L229 378.21 L239.42 373.5 L243.59 373.02 L251.93 369.55 L258.19 367.05 L266.52 364.56 L274.87 358.11 L281.12 354.16 L287.38 352.92 L297.8 348.44 L304.06 343.73 L312.39 344.74 L318.65 339.78 L326.99 334.55 L333.25 327.62" stroke="#141414" stroke-width="1.0" fill="none" stroke-linejoin="round"/>
<circle cx="214.4" cy="384.41" r="1.95" fill="#000000"/>
<circle cx="222.74" cy="380.71" r="1.95" fill="#000000"/>
<circle cx="229" cy="378.21" r="1.95" fill="#000000"/>
<circle cx="239.42" cy="373.5" r="1.95" fill="#000000"/>
<circle cx="243.59" cy="373.02" r="1.95" fill="#000000"/>
<circle cx="251.93" cy="369.55" r="1.95" fill="#000000"/>
<circle cx="258.19" cy="367.05" r="1.95" fill="#000000"/>
<circle cx="266.52" cy="364.56" r="1.95" fill="#000000"/>
<circle cx="274.87" cy="358.11" r="1.95" fill="#000000"/>
<circle cx="281.12" cy="354.16" r="1.95" fill="#000000"/>
<circle cx="287.38" cy="352.92" r="1.95" fill="#000000"/>
<circle cx="297.8" cy="348.44" r="1.95" fill="#000000"/>
<circle cx="304.06" cy="343.73" r="1.95" fill="#000000"/>
<circle cx="312.39" cy="344.74" r="1.95" fill="#000000"/>
<circle cx="318.65" cy="339.78" r="1.95" fill="#000000"/>
<circle cx="326.99" cy="334.55" r="1.95" fill="#000000"/>
<circle cx="333.25" cy="327.62" r="1.95" fill="#000000"/>
<g stroke="#222" stroke-width="1" fill="none">
<path d="M392.8 311.5V392.4H513.8"/>
<path d="M390 392.4H392.8"/>
<path d="M390 367.3H392.8"/>
<path d="M390 342.2H392.8"/>
<path d="M390 317.1H392.8"/>
<path d="M392.8 392.4V394.7"/>
<path d="M412.41 392.4V394.7"/>
<path d="M432.03 392.4V394.7"/>
<path d="M451.64 392.4V394.7"/>
<path d="M471.26 392.4V394.7"/>
<path d="M490.87 392.4V394.7"/>
<path d="M510.48 392.4V394.7"/>
</g>
<text x="389.6" y="395.05" font-size="6.3" font-weight="normal" text-anchor="end" fill="#404040">0</text>
<text x="389.6" y="369.95" font-size="6.3" font-weight="normal" text-anchor="end" fill="#404040">500</text>
<text x="389.6" y="344.85" font-size="6.3" font-weight="normal" text-anchor="end" fill="#404040">1,000</text>
<text x="389.6" y="319.75" font-size="6.3" font-weight="normal" text-anchor="end" fill="#404040">1,500</text>
<text x="392.8" y="402.3" font-size="6.3" font-weight="normal" text-anchor="middle" fill="#404040">0</text>
<text x="412.41" y="402.3" font-size="6.3" font-weight="normal" text-anchor="middle" fill="#404040">7</text>
<text x="432.03" y="402.3" font-size="6.3" font-weight="normal" text-anchor="middle" fill="#404040">14</text>
<text x="451.64" y="402.3" font-size="6.3" font-weight="normal" text-anchor="middle" fill="#404040">21</text>
<text x="471.26" y="402.3" font-size="6.3" font-weight="normal" text-anchor="middle" fill="#404040">28</text>
<text x="490.87" y="402.3" font-size="6.3" font-weight="normal" text-anchor="middle" fill="#404040">35</text>
<text x="510.48" y="402.3" font-size="6.3" font-weight="normal" text-anchor="middle" fill="#404040">42</text>
<text x="453.25" y="410" font-size="6.4" font-weight="bold" text-anchor="middle" fill="#111" textLength="15.6" lengthAdjust="spacingAndGlyphs">Days</text>
<text x="453.45" y="303.2" font-size="9.1" font-weight="bold" text-anchor="middle" fill="#111" textLength="41.2" lengthAdjust="spacingAndGlyphs">CTG-0784</text>
<text x="372.8" y="351.3" font-size="6.4" font-weight="bold" fill="#111" text-anchor="middle" transform="rotate(-90 372.8 351.3)" textLength="64.2" lengthAdjust="spacingAndGlyphs">Tumor volume (mm<tspan font-size="4" dy="-3.2">3</tspan><tspan dy="3.2">)</tspan></text>
<g stroke="#8a96c4" stroke-width="0.7" fill="none">
<path d="M406.81 377.19V379.2M405.51 377.19H408.11M405.51 379.2H408.11"/>
<path d="M412.41 383.67V385.67M411.11 383.67H413.71M411.11 385.67H413.71"/>
<path d="M423.62 381.16V382.66M422.32 381.16H424.92M422.32 382.66H424.92"/>
<path d="M432.03 380.15V381.66M430.73 380.15H433.33M430.73 381.66H433.33"/>
<path d="M443.24 380.15V381.66M441.94 380.15H444.54M441.94 381.66H444.54"/>
<path d="M451.64 380.15V381.66M450.34 380.15H452.94M450.34 381.66H452.94"/>
<path d="M462.85 381.66V383.16M461.55 381.66H464.15M461.55 383.16H464.15"/>
<path d="M471.26 381.16V382.66M469.96 381.16H472.56M469.96 382.66H472.56"/>
<path d="M482.46 379.9V381.41M481.16 379.9H483.76M481.16 381.41H483.76"/>
<path d="M490.87 379.15V380.65M489.57 379.15H492.17M489.57 380.65H492.17"/>
<path d="M504.88 379.15V380.65M503.58 379.15H506.18M503.58 380.65H506.18"/>
<path d="M510.48 374.43V376.94M509.18 374.43H511.78M509.18 376.94H511.78"/>
</g>
<g stroke="#dc8088" stroke-width="0.7" fill="none">
<path d="M406.81 376.69V379.7M405.51 376.69H408.11M405.51 379.7H408.11"/>
<path d="M412.41 381.16V384.17M411.11 381.16H413.71M411.11 384.17H413.71"/>
<path d="M423.62 374.43V378.44M422.32 374.43H424.92M422.32 378.44H424.92"/>
<path d="M432.03 373.93V377.94M430.73 373.93H433.33M430.73 377.94H433.33"/>
<path d="M443.24 371.42V376.44M441.94 371.42H444.54M441.94 376.44H444.54"/>
<path d="M451.64 366.45V372.47M450.34 366.45H452.94M450.34 372.47H452.94"/>
<path d="M462.85 363.43V370.46M461.55 363.43H464.15M461.55 370.46H464.15"/>
<path d="M471.26 361.18V369.21M469.96 361.18H472.56M469.96 369.21H472.56"/>
<path d="M482.46 353.19V365.24M481.16 353.19H483.76M481.16 365.24H483.76"/>
<path d="M490.87 345.21V361.28M489.57 345.21H492.17M489.57 361.28H492.17"/>
<path d="M504.88 332.96V353.04M503.58 332.96H506.18M503.58 353.04H506.18"/>
<path d="M510.48 325.23V345.31M509.18 325.23H511.78M509.18 345.31H511.78"/>
</g>
<g stroke="#70b48c" stroke-width="0.7" fill="none">
<path d="M406.81 376.19V379.2M405.51 376.19H408.11M405.51 379.2H408.11"/>
<path d="M412.41 380.4V383.41M411.11 380.4H413.71M411.11 383.41H413.71"/>
<path d="M423.62 373.42V378.44M422.32 373.42H424.92M422.32 378.44H424.92"/>
<path d="M432.03 372.67V378.7M430.73 372.67H433.33M430.73 378.7H433.33"/>
<path d="M443.24 369.16V376.19M441.94 369.16H444.54M441.94 376.19H444.54"/>
<path d="M451.64 364.69V372.72M450.34 364.69H452.94M450.34 372.72H452.94"/>
<path d="M462.85 359.92V368.96M461.55 359.92H464.15M461.55 368.96H464.15"/>
<path d="M471.26 356.96V367M469.96 356.96H472.56M469.96 367H472.56"/>
<path d="M482.46 351.44V363.48M481.16 351.44H483.76M481.16 363.48H483.76"/>
<path d="M490.87 347.97V362.03M489.57 347.97H492.17M489.57 362.03H492.17"/>
<path d="M504.88 338.69V360.77M503.58 338.69H506.18M503.58 360.77H506.18"/>
<path d="M510.48 327.69V354.8M509.18 327.69H511.78M509.18 354.8H511.78"/>
</g>
<g stroke="#404040" stroke-width="0.7" fill="none">
<path d="M406.81 375.68V378.7M405.51 375.68H408.11M405.51 378.7H408.11"/>
<path d="M412.41 375.93V379.95M411.11 375.93H413.71M411.11 379.95H413.71"/>
<path d="M423.62 366.7V372.72M422.32 366.7H424.92M422.32 372.72H424.92"/>
<path d="M432.03 364.94V371.97M430.73 364.94H433.33M430.73 371.97H433.33"/>
<path d="M443.24 355.7V366.75M441.94 355.7H444.54M441.94 366.75H444.54"/>
<path d="M451.64 339.69V358.77M450.34 339.69H452.94M450.34 358.77H452.94"/>
<path d="M462.85 350.48V358.51M461.55 350.48H464.15M461.55 358.51H464.15"/>
<path d="M471.26 345.21V355.25M469.96 345.21H472.56M469.96 355.25H472.56"/>
<path d="M482.46 340.19V353.24M481.16 340.19H483.76M481.16 353.24H483.76"/>
<path d="M490.87 329.75V344.81M489.57 329.75H492.17M489.57 344.81H492.17"/>
<path d="M504.88 320.01V337.08M503.58 320.01H506.18M503.58 337.08H506.18"/>
<path d="M510.48 313.23V333.31M509.18 313.23H511.78M509.18 333.31H511.78"/>
</g>
<path d="M392.8 380.4 L406.81 378.19 L412.41 384.67 L423.62 381.91 L432.03 380.9 L443.24 380.9 L451.64 380.9 L462.85 382.41 L471.26 381.91 L482.46 380.65 L490.87 379.9 L504.88 379.9 L510.48 375.68" stroke="#44529c" stroke-width="1.0" fill="none" stroke-linejoin="round"/>
<path d="M392.8 378.4L394.8 382L390.8 382Z" fill="#26357a"/>
<path d="M406.81 376.19L408.81 379.79L404.81 379.79Z" fill="#26357a"/>
<path d="M412.41 382.67L414.41 386.27L410.41 386.27Z" fill="#26357a"/>
<path d="M423.62 379.91L425.62 383.51L421.62 383.51Z" fill="#26357a"/>
<path d="M432.03 378.9L434.03 382.5L430.03 382.5Z" fill="#26357a"/>
<path d="M443.24 378.9L445.24 382.5L441.24 382.5Z" fill="#26357a"/>
<path d="M451.64 378.9L453.64 382.5L449.64 382.5Z" fill="#26357a"/>
<path d="M462.85 380.41L464.85 384.01L460.85 384.01Z" fill="#26357a"/>
<path d="M471.26 379.91L473.26 383.51L469.26 383.51Z" fill="#26357a"/>
<path d="M482.46 378.65L484.46 382.25L480.46 382.25Z" fill="#26357a"/>
<path d="M490.87 377.9L492.87 381.5L488.87 381.5Z" fill="#26357a"/>
<path d="M504.88 377.9L506.88 381.5L502.88 381.5Z" fill="#26357a"/>
<path d="M510.48 373.68L512.48 377.28L508.48 377.28Z" fill="#26357a"/>
<path d="M392.8 380.4 L406.81 378.19 L412.41 382.66 L423.62 376.44 L432.03 375.93 L443.24 373.93 L451.64 369.46 L462.85 366.95 L471.26 365.19 L482.46 359.22 L490.87 353.24 L504.88 343 L510.48 335.27" stroke="#d83a48" stroke-width="1.0" fill="none" stroke-linejoin="round"/>
<path d="M392.8 378.25L394.95 380.4L392.8 382.55L390.65 380.4Z" fill="#c4203a"/>
<path d="M406.81 376.04L408.96 378.19L406.81 380.34L404.66 378.19Z" fill="#c4203a"/>
<path d="M412.41 380.51L414.56 382.66L412.41 384.81L410.26 382.66Z" fill="#c4203a"/>
<path d="M423.62 374.29L425.77 376.44L423.62 378.59L421.47 376.44Z" fill="#c4203a"/>
<path d="M432.03 373.78L434.18 375.93L432.03 378.08L429.88 375.93Z" fill="#c4203a"/>
<path d="M443.24 371.78L445.39 373.93L443.24 376.08L441.09 373.93Z" fill="#c4203a"/>
<path d="M451.64 367.31L453.79 369.46L451.64 371.61L449.49 369.46Z" fill="#c4203a"/>
<path d="M462.85 364.8L465 366.95L462.85 369.1L460.7 366.95Z" fill="#c4203a"/>
<path d="M471.26 363.04L473.41 365.19L471.26 367.34L469.11 365.19Z" fill="#c4203a"/>
<path d="M482.46 357.07L484.61 359.22L482.46 361.37L480.31 359.22Z" fill="#c4203a"/>
<path d="M490.87 351.09L493.02 353.24L490.87 355.39L488.72 353.24Z" fill="#c4203a"/>
<path d="M504.88 340.85L507.03 343L504.88 345.15L502.73 343Z" fill="#c4203a"/>
<path d="M510.48 333.12L512.63 335.27L510.48 337.42L508.33 335.27Z" fill="#c4203a"/>
<path d="M392.8 380.4 L406.81 377.69 L412.41 381.91 L423.62 375.93 L432.03 375.68 L443.24 372.67 L451.64 368.71 L462.85 364.44 L471.26 361.98 L482.46 357.46 L490.87 355 L504.88 349.73 L510.48 341.25" stroke="#2a9462" stroke-width="1.0" fill="none" stroke-linejoin="round"/>
<rect x="391.1" y="378.7" width="3.4" height="3.4" fill="#156c3e"/>
<rect x="405.11" y="375.99" width="3.4" height="3.4" fill="#156c3e"/>
<rect x="410.71" y="380.21" width="3.4" height="3.4" fill="#156c3e"/>
<rect x="421.92" y="374.23" width="3.4" height="3.4" fill="#156c3e"/>
<rect x="430.33" y="373.98" width="3.4" height="3.4" fill="#156c3e"/>
<rect x="441.54" y="370.97" width="3.4" height="3.4" fill="#156c3e"/>
<rect x="449.94" y="367.01" width="3.4" height="3.4" fill="#156c3e"/>
<rect x="461.15" y="362.74" width="3.4" height="3.4" fill="#156c3e"/>
<rect x="469.56" y="360.28" width="3.4" height="3.4" fill="#156c3e"/>
<rect x="480.76" y="355.76" width="3.4" height="3.4" fill="#156c3e"/>
<rect x="489.17" y="353.3" width="3.4" height="3.4" fill="#156c3e"/>
<rect x="503.18" y="348.03" width="3.4" height="3.4" fill="#156c3e"/>
<rect x="508.78" y="339.55" width="3.4" height="3.4" fill="#156c3e"/>
<path d="M392.8 380.4 L406.81 377.19 L412.41 377.94 L423.62 369.71 L432.03 368.45 L443.24 361.23 L451.64 349.23 L462.85 354.5 L471.26 350.23 L482.46 346.72 L490.87 337.28 L504.88 328.55 L510.48 323.27" stroke="#141414" stroke-width="1.0" fill="none" stroke-linejoin="round"/>
<circle cx="392.8" cy="380.4" r="1.95" fill="#000000"/>
<circle cx="406.81" cy="377.19" r="1.95" fill="#000000"/>
<circle cx="412.41" cy="377.94" r="1.95" fill="#000000"/>
<circle cx="423.62" cy="369.71" r="1.95" fill="#000000"/>
<circle cx="432.03" cy="368.45" r="1.95" fill="#000000"/>
<circle cx="443.24" cy="361.23" r="1.95" fill="#000000"/>
<circle cx="451.64" cy="349.23" r="1.95" fill="#000000"/>
<circle cx="462.85" cy="354.5" r="1.95" fill="#000000"/>
<circle cx="471.26" cy="350.23" r="1.95" fill="#000000"/>
<circle cx="482.46" cy="346.72" r="1.95" fill="#000000"/>
<circle cx="490.87" cy="337.28" r="1.95" fill="#000000"/>
<circle cx="504.88" cy="328.55" r="1.95" fill="#000000"/>
<circle cx="510.48" cy="323.27" r="1.95" fill="#000000"/>
<g stroke="#222" stroke-width="1" fill="none">
<path d="M43.35 457.3V538.35H165.4"/>
<path d="M40.55 538.35H43.35"/>
<path d="M40.55 518.1H43.35"/>
<path d="M40.55 497.85H43.35"/>
<path d="M40.55 477.6H43.35"/>
<path d="M40.55 457.35H43.35"/>
<path d="M43.35 538.35V540.65"/>
<path d="M60.78 538.35V540.65"/>
<path d="M78.21 538.35V540.65"/>
<path d="M95.63 538.35V540.65"/>
<path d="M113.06 538.35V540.65"/>
<path d="M130.49 538.35V540.65"/>
<path d="M147.92 538.35V540.65"/>
<path d="M165.35 538.35V540.65"/>
</g>
<text x="40.15" y="541" font-size="6.3" font-weight="normal" text-anchor="end" fill="#404040">0</text>
<text x="40.15" y="520.75" font-size="6.3" font-weight="normal" text-anchor="end" fill="#404040">500</text>
<text x="40.15" y="500.5" font-size="6.3" font-weight="normal" text-anchor="end" fill="#404040">1,000</text>
<text x="40.15" y="480.25" font-size="6.3" font-weight="normal" text-anchor="end" fill="#404040">1,500</text>
<text x="40.15" y="460" font-size="6.3" font-weight="normal" text-anchor="end" fill="#404040">2,000</text>
<text x="43.35" y="548.25" font-size="6.3" font-weight="normal" text-anchor="middle" fill="#404040">0</text>
<text x="60.78" y="548.25" font-size="6.3" font-weight="normal" text-anchor="middle" fill="#404040">4</text>
<text x="78.21" y="548.25" font-size="6.3" font-weight="normal" text-anchor="middle" fill="#404040">8</text>
<text x="95.63" y="548.25" font-size="6.3" font-weight="normal" text-anchor="middle" fill="#404040">12</text>
<text x="113.06" y="548.25" font-size="6.3" font-weight="normal" text-anchor="middle" fill="#404040">16</text>
<text x="130.49" y="548.25" font-size="6.3" font-weight="normal" text-anchor="middle" fill="#404040">20</text>
<text x="147.92" y="548.25" font-size="6.3" font-weight="normal" text-anchor="middle" fill="#404040">24</text>
<text x="165.35" y="548.25" font-size="6.3" font-weight="normal" text-anchor="middle" fill="#404040">28</text>
<text x="104.3" y="555.95" font-size="6.4" font-weight="bold" text-anchor="middle" fill="#111" textLength="15.6" lengthAdjust="spacingAndGlyphs">Days</text>
<text x="105.4" y="448.2" font-size="9.1" font-weight="bold" text-anchor="middle" fill="#111" textLength="41.2" lengthAdjust="spacingAndGlyphs">CTG-0137</text>
<text x="21.8" y="496.6" font-size="6.4" font-weight="bold" fill="#111" text-anchor="middle" transform="rotate(-90 21.8 496.6)" textLength="64.2" lengthAdjust="spacingAndGlyphs">Tumor volume (mm<tspan font-size="4" dy="-3.2">3</tspan><tspan dy="3.2">)</tspan></text>
<g stroke="#8a96c4" stroke-width="0.7" fill="none">
<path d="M65.14 526.93V529.36M63.84 526.93H66.44M63.84 529.36H66.44"/>
<path d="M78.21 526.4V528.83M76.91 526.4H79.51M76.91 528.83H79.51"/>
<path d="M95.63 524.5V527.74M94.33 524.5H96.93M94.33 527.74H96.93"/>
<path d="M108.71 520.98V525.84M107.41 520.98H110.01M107.41 525.84H110.01"/>
<path d="M126.13 514.7V523.61M124.83 514.7H127.43M124.83 523.61H127.43"/>
<path d="M139.2 515.79V525.51M137.9 515.79H140.5M137.9 525.51H140.5"/>
<path d="M156.63 515.26V524.99M155.33 515.26H157.93M155.33 524.99H157.93"/>
</g>
<g stroke="#dc8088" stroke-width="0.7" fill="none">
<path d="M65.14 523.41V525.84M63.84 523.41H66.44M63.84 525.84H66.44"/>
<path d="M78.21 517.78V521.02M76.91 517.78H79.51M76.91 521.02H79.51"/>
<path d="M95.63 507.45V513.93M94.33 507.45H96.93M94.33 513.93H96.93"/>
<path d="M108.71 500.12V508.22M107.41 500.12H110.01M107.41 508.22H110.01"/>
<path d="M126.13 476.75V489.71M124.83 476.75H127.43M124.83 489.71H127.43"/>
<path d="M139.2 468.89V485.09M137.9 468.89H140.5M137.9 485.09H140.5"/>
</g>
<g stroke="#70b48c" stroke-width="0.7" fill="none">
<path d="M65.14 524.18V526.61M63.84 524.18H66.44M63.84 526.61H66.44"/>
<path d="M78.21 518.79V522.03M76.91 518.79H79.51M76.91 522.03H79.51"/>
<path d="M95.63 512.23V517.09M94.33 512.23H96.93M94.33 517.09H96.93"/>
<path d="M108.71 504.01V508.87M107.41 504.01H110.01M107.41 508.87H110.01"/>
<path d="M126.13 489.75V498.66M124.83 489.75H127.43M124.83 498.66H127.43"/>
<path d="M139.2 491.33V498.62M137.9 491.33H140.5M137.9 498.62H140.5"/>
<path d="M156.63 488.9V497M155.33 488.9H157.93M155.33 497H157.93"/>
</g>
<g stroke="#404040" stroke-width="0.7" fill="none">
<path d="M65.14 521.18V523.61M63.84 521.18H66.44M63.84 523.61H66.44"/>
<path d="M78.21 511.38V515.43M76.91 511.38H79.51M76.91 515.43H79.51"/>
<path d="M95.63 486.55V497.89M94.33 486.55H96.93M94.33 497.89H96.93"/>
<path d="M108.71 471.89V481.61M107.41 471.89H110.01M107.41 481.61H110.01"/>
</g>
<path d="M43.35 531.63 L65.14 528.14 L78.21 527.62 L95.63 526.12 L108.71 523.41 L126.13 519.15 L139.2 520.65 L156.63 520.12" stroke="#44529c" stroke-width="1.0" fill="none" stroke-linejoin="round"/>
<path d="M43.35 529.63L45.35 533.23L41.35 533.23Z" fill="#26357a"/>
<path d="M65.14 526.14L67.14 529.74L63.14 529.74Z" fill="#26357a"/>
<path d="M78.21 525.62L80.21 529.22L76.21 529.22Z" fill="#26357a"/>
<path d="M95.63 524.12L97.63 527.72L93.63 527.72Z" fill="#26357a"/>
<path d="M108.71 521.41L110.71 525.01L106.71 525.01Z" fill="#26357a"/>
<path d="M126.13 517.15L128.13 520.75L124.13 520.75Z" fill="#26357a"/>
<path d="M139.2 518.65L141.2 522.25L137.2 522.25Z" fill="#26357a"/>
<path d="M156.63 518.12L158.63 521.73L154.63 521.73Z" fill="#26357a"/>
<path d="M43.35 531.63 L65.14 524.62 L78.21 519.4 L95.63 510.69 L108.71 504.17 L126.13 483.23 L139.2 476.99" stroke="#d83a48" stroke-width="1.0" fill="none" stroke-linejoin="round"/>
<path d="M43.35 529.48L45.5 531.63L43.35 533.78L41.2 531.63Z" fill="#c4203a"/>
<path d="M65.14 522.47L67.29 524.62L65.14 526.77L62.99 524.62Z" fill="#c4203a"/>
<path d="M78.21 517.25L80.36 519.4L78.21 521.55L76.06 519.4Z" fill="#c4203a"/>
<path d="M95.63 508.54L97.78 510.69L95.63 512.84L93.48 510.69Z" fill="#c4203a"/>
<path d="M108.71 502.02L110.86 504.17L108.71 506.32L106.56 504.17Z" fill="#c4203a"/>
<path d="M126.13 481.08L128.28 483.23L126.13 485.38L123.98 483.23Z" fill="#c4203a"/>
<path d="M139.2 474.84L141.35 476.99L139.2 479.14L137.05 476.99Z" fill="#c4203a"/>
<path d="M43.35 531.63 L65.14 525.39 L78.21 520.41 L95.63 514.66 L108.71 506.44 L126.13 494.21 L139.2 494.97 L156.63 492.95" stroke="#2a9462" stroke-width="1.0" fill="none" stroke-linejoin="round"/>
<rect x="41.65" y="529.93" width="3.4" height="3.4" fill="#156c3e"/>
<rect x="63.44" y="523.69" width="3.4" height="3.4" fill="#156c3e"/>
<rect x="76.51" y="518.71" width="3.4" height="3.4" fill="#156c3e"/>
<rect x="93.93" y="512.96" width="3.4" height="3.4" fill="#156c3e"/>
<rect x="107.01" y="504.74" width="3.4" height="3.4" fill="#156c3e"/>
<rect x="124.43" y="492.51" width="3.4" height="3.4" fill="#156c3e"/>
<rect x="137.5" y="493.27" width="3.4" height="3.4" fill="#156c3e"/>
<rect x="154.93" y="491.25" width="3.4" height="3.4" fill="#156c3e"/>
<path d="M43.35 531.63 L65.14 522.39 L78.21 513.4 L95.63 492.22 L108.71 476.75" stroke="#141414" stroke-width="1.0" fill="none" stroke-linejoin="round"/>
<circle cx="43.35" cy="531.63" r="1.95" fill="#000000"/>
<circle cx="65.14" cy="522.39" r="1.95" fill="#000000"/>
<circle cx="78.21" cy="513.4" r="1.95" fill="#000000"/>
<circle cx="95.63" cy="492.22" r="1.95" fill="#000000"/>
<circle cx="108.71" cy="476.75" r="1.95" fill="#000000"/>
<g stroke="#222" stroke-width="1" fill="none">
<path d="M213.05 459.5V538.8H332.2"/>
<path d="M210.25 538.8H213.05"/>
<path d="M210.25 505.8H213.05"/>
<path d="M210.25 472.8H213.05"/>
<path d="M213.05 538.8V541.1"/>
<path d="M228.38 538.8V541.1"/>
<path d="M243.71 538.8V541.1"/>
<path d="M259.03 538.8V541.1"/>
<path d="M274.36 538.8V541.1"/>
<path d="M289.69 538.8V541.1"/>
<path d="M305.02 538.8V541.1"/>
<path d="M320.35 538.8V541.1"/>
</g>
<text x="209.85" y="541.45" font-size="6.3" font-weight="normal" text-anchor="end" fill="#404040">0</text>
<text x="209.85" y="508.45" font-size="6.3" font-weight="normal" text-anchor="end" fill="#404040">500</text>
<text x="209.85" y="475.45" font-size="6.3" font-weight="normal" text-anchor="end" fill="#404040">1,000</text>
<text x="213.05" y="548.7" font-size="6.3" font-weight="normal" text-anchor="middle" fill="#404040">0</text>
<text x="228.38" y="548.7" font-size="6.3" font-weight="normal" text-anchor="middle" fill="#404040">4</text>
<text x="243.71" y="548.7" font-size="6.3" font-weight="normal" text-anchor="middle" fill="#404040">8</text>
<text x="259.03" y="548.7" font-size="6.3" font-weight="normal" text-anchor="middle" fill="#404040">12</text>
<text x="274.36" y="548.7" font-size="6.3" font-weight="normal" text-anchor="middle" fill="#404040">16</text>
<text x="289.69" y="548.7" font-size="6.3" font-weight="normal" text-anchor="middle" fill="#404040">20</text>
<text x="305.02" y="548.7" font-size="6.3" font-weight="normal" text-anchor="middle" fill="#404040">24</text>
<text x="320.35" y="548.7" font-size="6.3" font-weight="normal" text-anchor="middle" fill="#404040">28</text>
<text x="272.35" y="556.4" font-size="6.4" font-weight="bold" text-anchor="middle" fill="#111" textLength="15.6" lengthAdjust="spacingAndGlyphs">Days</text>
<text x="272.6" y="450.8" font-size="9.1" font-weight="bold" text-anchor="middle" fill="#111" textLength="41.2" lengthAdjust="spacingAndGlyphs">CTG-0138</text>
<text x="192.8" y="497.3" font-size="6.4" font-weight="bold" fill="#111" text-anchor="middle" transform="rotate(-90 192.8 497.3)" textLength="64.2" lengthAdjust="spacingAndGlyphs">Tumor volume (mm<tspan font-size="4" dy="-3.2">3</tspan><tspan dy="3.2">)</tspan></text>
<g stroke="#8a96c4" stroke-width="0.7" fill="none">
<path d="M220.71 526.85V528.17M219.41 526.85H222.01M219.41 528.17H222.01"/>
<path d="M236.04 529.89V531.21M234.74 529.89H237.34M234.74 531.21H237.34"/>
<path d="M247.54 531.14V532.46M246.24 531.14H248.84M246.24 532.46H248.84"/>
<path d="M262.87 532.27V533.32M261.57 532.27H264.17M261.57 533.32H264.17"/>
<path d="M274.36 533.26V534.31M273.06 533.26H275.66M273.06 534.31H275.66"/>
<path d="M289.69 534.51V535.57M288.39 534.51H290.99M288.39 535.57H290.99"/>
<path d="M297.35 532.27V533.32M296.05 532.27H298.65M296.05 533.32H298.65"/>
<path d="M316.51 533.98V535.04M315.21 533.98H317.81M315.21 535.04H317.81"/>
<path d="M328.01 531.74V532.79M326.71 531.74H329.31M326.71 532.79H329.31"/>
</g>
<g stroke="#dc8088" stroke-width="0.7" fill="none">
<path d="M220.71 523.75V525.73M219.41 523.75H222.01M219.41 525.73H222.01"/>
<path d="M236.04 526.92V529.56M234.74 526.92H237.34M234.74 529.56H237.34"/>
<path d="M247.54 524.68V527.32M246.24 524.68H248.84M246.24 527.32H248.84"/>
<path d="M262.87 523.95V526.59M261.57 523.95H264.17M261.57 526.59H264.17"/>
<path d="M274.36 521.05V525.01M273.06 521.05H275.66M273.06 525.01H275.66"/>
<path d="M289.69 521.24V525.2M288.39 521.24H290.99M288.39 525.2H290.99"/>
<path d="M297.35 519V522.96M296.05 519H298.65M296.05 522.96H298.65"/>
<path d="M316.51 513.59V518.87M315.21 513.59H317.81M315.21 518.87H317.81"/>
<path d="M328.01 511.61V516.89M326.71 511.61H329.31M326.71 516.89H329.31"/>
</g>
<g stroke="#70b48c" stroke-width="0.7" fill="none">
<path d="M220.71 523.75V525.73M219.41 523.75H222.01M219.41 525.73H222.01"/>
<path d="M236.04 516.23V520.19M234.74 516.23H237.34M234.74 520.19H237.34"/>
<path d="M247.54 514.25V518.21M246.24 514.25H248.84M246.24 518.21H248.84"/>
<path d="M262.87 504.68V515.24M261.57 504.68H264.17M261.57 515.24H264.17"/>
<path d="M274.36 493.19V511.67M273.06 493.19H275.66M273.06 511.67H275.66"/>
<path d="M289.69 486.79V506.59M288.39 486.79H290.99M288.39 506.59H290.99"/>
<path d="M297.35 482.11V503.23M296.05 482.11H298.65M296.05 503.23H298.65"/>
<path d="M316.51 468.51V492.27M315.21 468.51H317.81M315.21 492.27H317.81"/>
<path d="M328.01 464.48V492.2M326.71 464.48H329.31M326.71 492.2H329.31"/>
</g>
<g stroke="#404040" stroke-width="0.7" fill="none">
<path d="M220.71 523.75V525.73M219.41 523.75H222.01M219.41 525.73H222.01"/>
<path d="M236.04 515.77V519.73M234.74 515.77H237.34M234.74 519.73H237.34"/>
<path d="M247.54 514.51V518.47M246.24 514.51H248.84M246.24 518.47H248.84"/>
<path d="M262.87 506.26V514.18M261.57 506.26H264.17M261.57 514.18H264.17"/>
<path d="M274.36 503.49V511.41M273.06 503.49H275.66M273.06 511.41H275.66"/>
<path d="M289.69 503.49V511.41M288.39 503.49H290.99M288.39 511.41H290.99"/>
<path d="M297.35 497.22V505.14M296.05 497.22H298.65M296.05 505.14H298.65"/>
<path d="M316.51 487.12V497.68M315.21 487.12H317.81M315.21 497.68H317.81"/>
<path d="M328.01 480.98V492.86M326.71 480.98H329.31M326.71 492.86H329.31"/>
</g>
<path d="M213.05 526.99 L220.71 527.51 L236.04 530.55 L247.54 531.8 L262.87 532.79 L274.36 533.78 L289.69 535.04 L297.35 532.79 L316.51 534.51 L328.01 532.27" stroke="#44529c" stroke-width="1.0" fill="none" stroke-linejoin="round"/>
<path d="M213.05 524.99L215.05 528.59L211.05 528.59Z" fill="#26357a"/>
<path d="M220.71 525.51L222.71 529.11L218.71 529.11Z" fill="#26357a"/>
<path d="M236.04 528.55L238.04 532.15L234.04 532.15Z" fill="#26357a"/>
<path d="M247.54 529.8L249.54 533.4L245.54 533.4Z" fill="#26357a"/>
<path d="M262.87 530.79L264.87 534.39L260.87 534.39Z" fill="#26357a"/>
<path d="M274.36 531.78L276.36 535.38L272.36 535.38Z" fill="#26357a"/>
<path d="M289.69 533.04L291.69 536.64L287.69 536.64Z" fill="#26357a"/>
<path d="M297.35 530.79L299.35 534.39L295.35 534.39Z" fill="#26357a"/>
<path d="M316.51 532.51L318.51 536.11L314.51 536.11Z" fill="#26357a"/>
<path d="M328.01 530.27L330.01 533.87L326.01 533.87Z" fill="#26357a"/>
<path d="M213.05 526.99 L220.71 524.74 L236.04 528.24 L247.54 526 L262.87 525.27 L274.36 523.03 L289.69 523.22 L297.35 520.98 L316.51 516.23 L328.01 514.25" stroke="#d83a48" stroke-width="1.0" fill="none" stroke-linejoin="round"/>
<path d="M213.05 524.84L215.2 526.99L213.05 529.14L210.9 526.99Z" fill="#c4203a"/>
<path d="M220.71 522.59L222.86 524.74L220.71 526.89L218.56 524.74Z" fill="#c4203a"/>
<path d="M236.04 526.09L238.19 528.24L236.04 530.39L233.89 528.24Z" fill="#c4203a"/>
<path d="M247.54 523.85L249.69 526L247.54 528.15L245.39 526Z" fill="#c4203a"/>
<path d="M262.87 523.12L265.02 525.27L262.87 527.42L260.72 525.27Z" fill="#c4203a"/>
<path d="M274.36 520.88L276.51 523.03L274.36 525.18L272.21 523.03Z" fill="#c4203a"/>
<path d="M289.69 521.07L291.84 523.22L289.69 525.37L287.54 523.22Z" fill="#c4203a"/>
<path d="M297.35 518.83L299.5 520.98L297.35 523.13L295.2 520.98Z" fill="#c4203a"/>
<path d="M316.51 514.08L318.66 516.23L316.51 518.38L314.36 516.23Z" fill="#c4203a"/>
<path d="M328.01 512.1L330.16 514.25L328.01 516.4L325.86 514.25Z" fill="#c4203a"/>
<path d="M213.05 526.99 L220.71 524.74 L236.04 518.21 L247.54 516.23 L262.87 509.96 L274.36 502.43 L289.69 496.69 L297.35 492.67 L316.51 480.39 L328.01 478.34" stroke="#2a9462" stroke-width="1.0" fill="none" stroke-linejoin="round"/>
<rect x="211.35" y="525.29" width="3.4" height="3.4" fill="#156c3e"/>
<rect x="219.01" y="523.04" width="3.4" height="3.4" fill="#156c3e"/>
<rect x="234.34" y="516.51" width="3.4" height="3.4" fill="#156c3e"/>
<rect x="245.84" y="514.53" width="3.4" height="3.4" fill="#156c3e"/>
<rect x="261.17" y="508.26" width="3.4" height="3.4" fill="#156c3e"/>
<rect x="272.66" y="500.73" width="3.4" height="3.4" fill="#156c3e"/>
<rect x="287.99" y="494.99" width="3.4" height="3.4" fill="#156c3e"/>
<rect x="295.65" y="490.97" width="3.4" height="3.4" fill="#156c3e"/>
<rect x="314.81" y="478.69" width="3.4" height="3.4" fill="#156c3e"/>
<rect x="326.31" y="476.64" width="3.4" height="3.4" fill="#156c3e"/>
<path d="M213.05 526.99 L220.71 524.74 L236.04 517.75 L247.54 516.49 L262.87 510.22 L274.36 507.45 L289.69 507.45 L297.35 501.18 L316.51 492.4 L328.01 486.92" stroke="#141414" stroke-width="1.0" fill="none" stroke-linejoin="round"/>
<circle cx="213.05" cy="526.99" r="1.95" fill="#000000"/>
<circle cx="220.71" cy="524.74" r="1.95" fill="#000000"/>
<circle cx="236.04" cy="517.75" r="1.95" fill="#000000"/>
<circle cx="247.54" cy="516.49" r="1.95" fill="#000000"/>
<circle cx="262.87" cy="510.22" r="1.95" fill="#000000"/>
<circle cx="274.36" cy="507.45" r="1.95" fill="#000000"/>
<circle cx="289.69" cy="507.45" r="1.95" fill="#000000"/>
<circle cx="297.35" cy="501.18" r="1.95" fill="#000000"/>
<circle cx="316.51" cy="492.4" r="1.95" fill="#000000"/>
<circle cx="328.01" cy="486.92" r="1.95" fill="#000000"/>
<text x="1.1" y="10.2" font-size="12.8" font-weight="bold" text-anchor="start" fill="#111">A</text>
<text x="1.0" y="148.6" font-size="12.8" font-weight="bold" text-anchor="start" fill="#111">B</text>
<text x="0.6" y="295.3" font-size="12.8" font-weight="bold" text-anchor="start" fill="#111">C</text>
<text x="0.8" y="439.7" font-size="12.8" font-weight="bold" text-anchor="start" fill="#111">D</text>
<text x="9.3" y="64.0" font-size="9.6" font-weight="bold" text-anchor="middle" fill="#111" transform="rotate(-90 9.3 64.0)" textLength="66.4" lengthAdjust="spacingAndGlyphs">Breast models</text>
<text x="9.3" y="203.1" font-size="9.6" font-weight="bold" text-anchor="middle" fill="#111" transform="rotate(-90 9.3 203.1)" textLength="69.1" lengthAdjust="spacingAndGlyphs">Gastric models</text>
<text x="9.3" y="354.25" font-size="9.6" font-weight="bold" text-anchor="middle" fill="#111" transform="rotate(-90 9.3 354.25)" textLength="82.7" lengthAdjust="spacingAndGlyphs">Colorectal models</text>
<text x="9.3" y="496.75" font-size="9.6" font-weight="bold" text-anchor="middle" fill="#111" transform="rotate(-90 9.3 496.75)" textLength="87.4" lengthAdjust="spacingAndGlyphs">Esophageal models</text>
<path d="M378.9 469.9H387.5" stroke="#141414" stroke-width="1"/>
<circle cx="383.2" cy="469.9" r="1.66" fill="#000000"/>
<text stroke="#1a1a1a" stroke-width="0.22" x="392.1" y="472.79999999999995" font-size="8.5" font-weight="normal" text-anchor="start" fill="#1a1a1a" textLength="54.7" lengthAdjust="spacingAndGlyphs">Vehicle control</text>
<path d="M378.9 480.7H387.5" stroke="#d83a48" stroke-width="1"/>
<path d="M383.2 478.87L385.03 480.7L383.2 482.53L381.37 480.7Z" fill="#c4203a"/>
<text stroke="#1a1a1a" stroke-width="0.22" x="392.1" y="483.59999999999997" font-size="8.5" font-weight="normal" text-anchor="start" fill="#1a1a1a" textLength="33.6" lengthAdjust="spacingAndGlyphs">Tucatinib</text>
<path d="M378.9 491.4H387.5" stroke="#2a9462" stroke-width="1"/>
<rect x="381.75" y="489.95" width="2.89" height="2.89" fill="#156c3e"/>
<text stroke="#1a1a1a" stroke-width="0.22" x="392.1" y="494.29999999999995" font-size="8.5" font-weight="normal" text-anchor="start" fill="#1a1a1a" textLength="50.6" lengthAdjust="spacingAndGlyphs">Trastuzumab</text>
<path d="M378.9 502.3H387.5" stroke="#44529c" stroke-width="1"/>
<path d="M383.2 500.6L384.9 503.66L381.5 503.66Z" fill="#26357a"/>
<text stroke="#1a1a1a" stroke-width="0.22" x="392.1" y="505.2" font-size="8.5" font-weight="normal" text-anchor="start" fill="#1a1a1a" textLength="92.8" lengthAdjust="spacingAndGlyphs">Tucatinib + trastuzumab</text>
</svg></body></html>
